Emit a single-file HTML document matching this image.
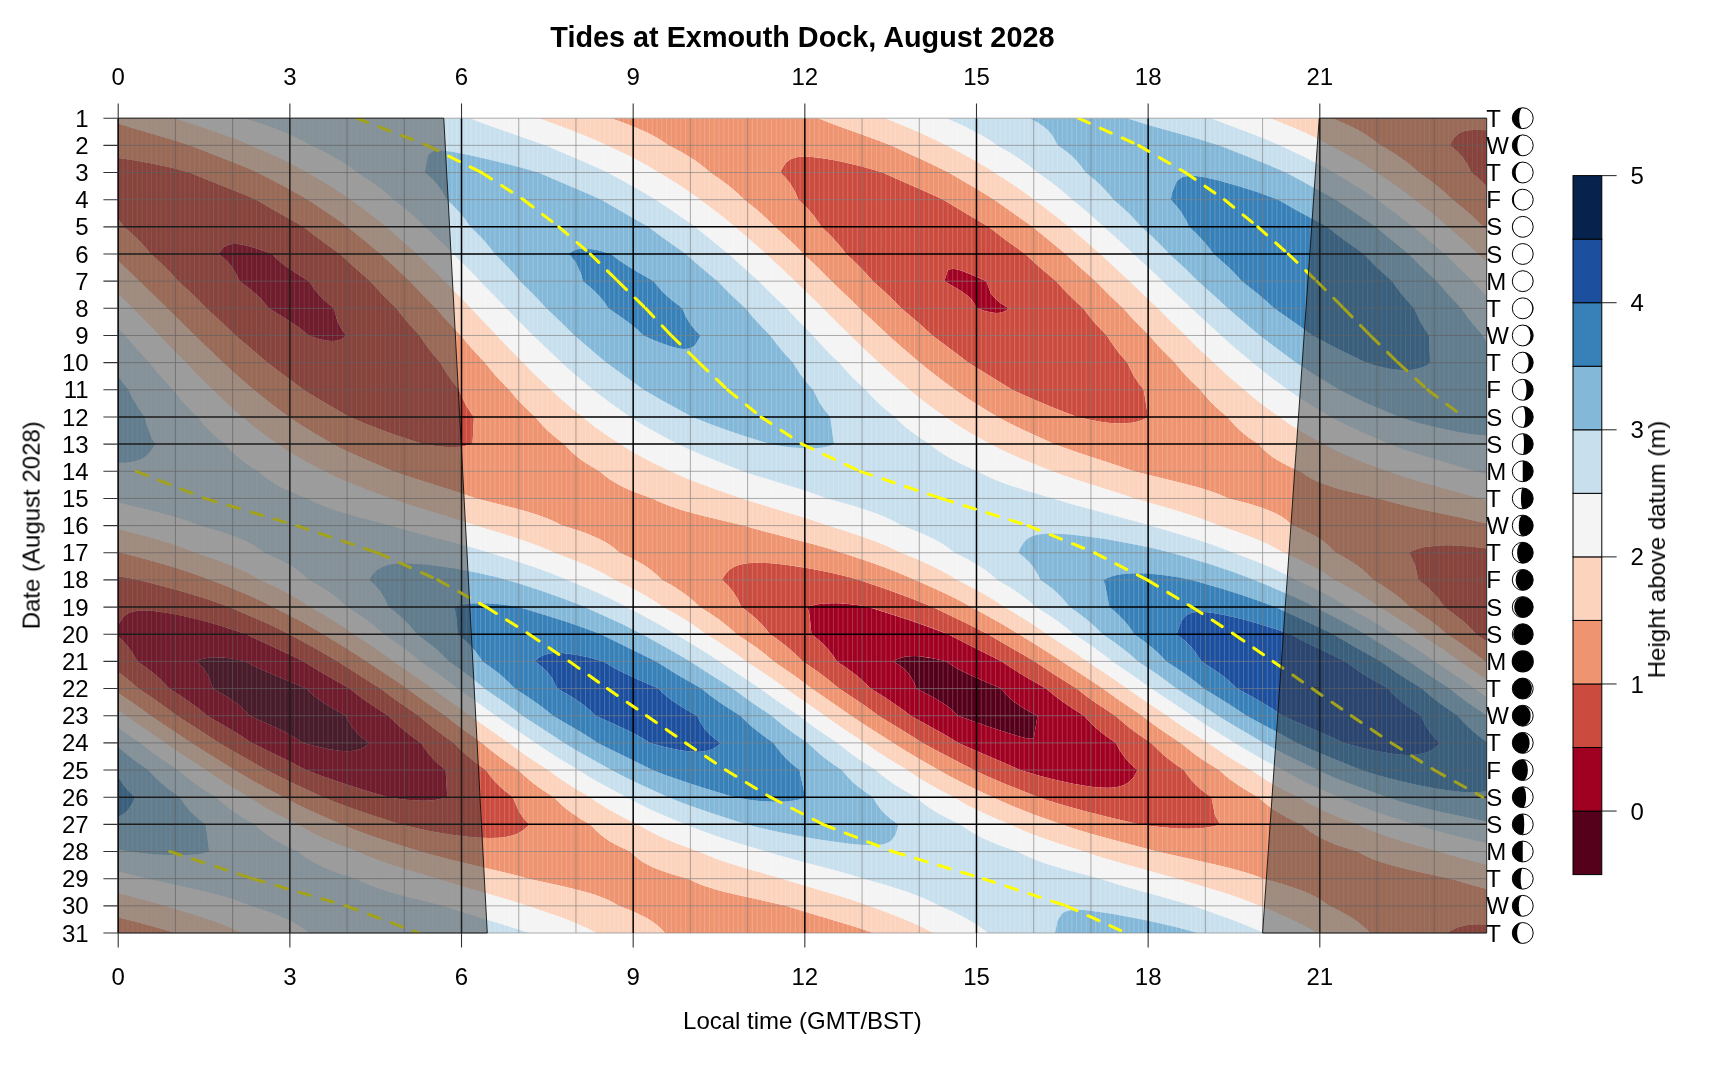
<!DOCTYPE html><html><head><meta charset="utf-8"><title>Tides</title><style>html,body{margin:0;padding:0;background:#fff}svg{display:block}text{font-family:"Liberation Sans",sans-serif;font-size:24px;fill:#000}</style></head><body>
<svg width="1720" height="1080" viewBox="0 0 1720 1080">
<rect width="1720" height="1080" fill="#fff"/>
<defs><clipPath id="c"><rect x="118.20" y="118.20" width="1368.50" height="814.80"/></clipPath></defs>
<g clip-path="url(#c)">
<rect x="118.2" y="118.2" width="1368.5" height="814.8" fill="#F7F7F7"/>
<path fill="#55001B" fill-rule="evenodd" d="M195.8,661.4 199.3,659.8 204,658.4 208.8,657.7 213.6,657.3 218.3,657.4 227.9,658.1 237.4,659.6 246,661.4 251.7,664.7 256.5,667.2 266,671.6 306.3,688.6 308.9,691.3 313.7,695.6 318.5,699.3 323.2,702.6 332.8,708.5 346,715.7 347.1,718.3 351.8,726.9 356.6,732.6 361.4,737 366.2,740.6 369.5,742.9 366.2,746.1 361.4,748.8 356.6,750.3 351.8,751 347.1,751.2 342.3,751 337.5,750.6 328,749.1 313.7,745.8 303,742.9 294.6,737.4 285.1,732.1 270.8,725.2 249.5,715.7 246.9,712.7 242.2,708 237.4,704 232.6,700.4 227.9,697.3 223.1,694.4 212.7,688.6 208.8,676.4 204,668.9 199.3,664.1ZM893.5,661.4 895.4,660.1 900.2,657.9 905,656.7 909.7,656.2 914.5,656.1 919.3,656.3 924,656.9 933.6,658.4 943.1,660.5 946.6,661.4 952.7,665.8 957.4,668.7 967,673.6 981.3,680.1 1001.3,688.6 1005.1,693.4 1009.9,698.2 1014.6,702.2 1019.4,705.5 1024.2,708.5 1028.9,711.2 1037.5,715.7 1033.7,738.4 1028.9,738.7 1024.2,737.7 1014.6,735 1000.3,730.5 986,725.8 957.9,715.7 952.7,710.4 947.9,706.5 943.1,703.2 933.6,697.4 924,692.4 916.3,688.6 914.5,683.5 909.7,674.9 905,669.6 900.2,665.7Z"/>
<path fill="#A00021" fill-rule="evenodd" d="M218.8,254 223.1,247.7 227.9,244.9 232.6,244 237.4,244.1 242.2,244.8 246.9,245.8 256.5,248.5 266,251.7 272,254 275.6,257.7 280.3,262 285.1,265.7 294.6,272.2 309.1,281.2 313.7,288.5 318.5,294.3 323.2,299.2 328,303.5 333.9,308.3 337.5,321.7 342.3,330.5 346.3,335.5 342.3,338.8 337.5,340.5 332.8,341 328,340.7 323.2,339.9 318.5,338.7 308.6,335.5 304.2,331.5 299.4,327.8 294.6,324.4 285.1,318.2 268.7,308.3 266,304.7 261.2,299.1 256.5,294.5 251.7,290.4 246.9,286.6 239.5,281.2 237.4,276.2 232.6,267.8 227.9,262.1 223.1,257.5ZM944.3,281.2 947.9,270.1 952.7,268.7 957.4,269.5 962.2,270.9 971.7,274.7 986.4,281.2 990.8,293.5 995.6,299.1 1000.3,302.9 1008.7,308.3 1005.1,311.3 1000.3,312.8 995.6,312.9 990.8,312.3 986,311.2 977.1,308.3 976.5,306.9 971.7,299.5 967,295.2 962.2,291.8 957.4,288.7ZM807.5,607.1 809.6,606.3 814.4,605 819.1,604.1 823.9,603.6 833.4,603.2 838.2,603.3 847.7,604 857.3,605.1 866.8,606.7 869,607.1 871.6,607.9 909.7,620.2 928.8,626.9 948.1,634.2 967,644.1 1001.8,661.4 1009.9,667 1019.4,673 1028.9,678.8 1046.1,688.6 1052.8,694.3 1062.3,701.6 1071.9,708.1 1084.1,715.7 1090.9,723.2 1095.7,727.7 1100.5,731.8 1105.2,735.5 1115.9,742.9 1119.5,749.9 1124.3,757 1129.1,762.5 1133.8,767 1137.5,770 1133.8,776.9 1129.1,781.9 1124.3,784.8 1119.5,786.4 1114.8,787.3 1110,787.7 1105.2,787.8 1095.7,787.2 1086.2,786 1071.9,783.6 1052.8,779.3 1038.5,775.5 1020.2,770 1005.1,763.3 976.5,750.9 958.4,742.9 947.9,736.4 938.3,730.9 910.6,715.7 905,711.3 895.4,704.4 885.9,698 870.6,688.6 866.8,684.7 862.1,680.2 857.3,676.1 847.7,668.7 837,661.4 833.4,655.9 828.7,649.9 823.9,644.8 819.1,640.3 811.5,634.2 809.6,615.4ZM895.4,660.1 893.5,661.4 900.2,665.7 905,669.6 909.7,674.9 914.5,683.5 916.3,688.6 924,692.4 933.6,697.4 943.1,703.2 947.9,706.5 952.7,710.4 957.9,715.7 986,725.8 1000.3,730.5 1014.6,735 1024.2,737.7 1028.9,738.7 1033.7,738.4 1037.5,715.7 1028.9,711.2 1024.2,708.5 1019.4,705.5 1014.6,702.2 1009.9,698.2 1005.1,693.4 1001.3,688.6 981.3,680.1 967,673.6 957.4,668.7 952.7,665.8 946.6,661.4 938.3,659.4 928.8,657.6 919.3,656.3 914.5,656.1 909.7,656.2 905,656.7 900.2,657.9ZM118.2,634.2 118.2,625 123,617.3 127.7,613.6 132.5,611.7 137.3,610.8 142,610.4 146.8,610.5 151.6,610.8 161.1,611.9 170.7,613.4 180.2,615.3 199.3,619.8 218.3,625.1 237.4,631.2 245.9,634.2 289.9,654.7 303.8,661.4 313.7,667.7 323.2,673.4 349.6,688.6 356.6,694.2 366.2,701.2 375.7,707.6 388.4,715.7 394.8,722.3 399.5,726.6 404.3,730.6 413.8,737.9 421,742.9 423.4,746.7 428.1,753.3 432.9,758.8 437.7,763.4 445.6,770 447.3,797.2 442.4,798.6 437.7,799.5 432.9,800.2 423.4,800.7 418.6,800.6 409.1,800.1 399.5,799 388,797.2 361.4,789.2 342.3,783.1 323.2,776.5 306.2,770 289.9,761.6 251.7,742.9 242.2,736.5 232.6,730.5 207.2,715.7 199.3,709.1 189.7,702 180.2,695.5 169.2,688.6 165.9,684.9 161.1,680 156.3,675.6 146.8,668 137.4,661.4 132.5,652.7 127.7,646.2 123,641 118.2,636.6ZM199.3,659.8 195.8,661.4 199.3,664.1 204,668.9 208.8,676.4 212.7,688.6 223.1,694.4 227.9,697.3 232.6,700.4 237.4,704 242.2,708 246.9,712.7 249.5,715.7 270.8,725.2 285.1,732.1 294.6,737.4 303,742.9 313.7,745.8 328,749.1 337.5,750.6 342.3,751 347.1,751.2 351.8,751 356.6,750.3 361.4,748.8 366.2,746.1 369.5,742.9 366.2,740.6 361.4,737 356.6,732.6 351.8,726.9 347.1,718.3 346,715.7 332.8,708.5 323.2,702.6 318.5,699.3 313.7,695.6 308.9,691.3 306.3,688.6 266,671.6 256.5,667.2 251.7,664.7 246,661.4 232.6,658.8 223.1,657.6 218.3,657.4 213.6,657.3 208.8,657.7 204,658.4Z"/>
<path fill="#CB4B3E" fill-rule="evenodd" d="M1449.9,145.4 1453.3,138.5 1458.1,133.9 1462.9,131.6 1467.6,130.4 1472.4,129.9 1477.2,129.8 1486.7,130.3 1486.7,186.4 1481.9,181.5 1477.2,177.2 1471.4,172.5 1467.6,164.8 1462.9,157.6 1458.1,152.3 1453.3,148ZM118.2,172.5 118.2,158 132.5,159.9 151.6,163.5 170.7,167.6 189.8,172.5 204,178.4 237.4,191.7 256.3,199.7 270.8,208.2 303.3,226.8 318.5,238.4 339.9,254 351.8,265.1 370.3,281.2 380.5,292.4 390,302.1 396.4,308.3 404.3,318.5 409.1,324.1 419.6,335.5 423.4,341.3 428.1,347.9 432.9,354 440.4,362.6 442.4,366.4 447.2,374.3 452,381.1 459,389.8 461.5,396.1 466.3,405.7 471.1,413.1 473.9,417 472.5,444.1 466.3,445.8 461.5,446.5 456.7,446.9 452,447 447.2,446.9 437.7,446.2 423.4,444.1 409.1,439.6 394.8,434.7 380.5,429.6 366.2,424 349.4,417 318.5,398.9 304.2,390.3 267.2,362.6 256.5,353.2 235.6,335.5 223.1,323.4 206.4,308.3 194.5,296.1 178.3,281.2 170.7,272.7 165.9,267.9 161.1,263.3 150.8,254 146.8,249.1 142,243.7 137.3,238.8 132.5,234.3 123.9,226.8 118.2,219ZM223.1,247.7 218.8,254 223.1,257.5 227.9,262.1 232.6,267.8 237.4,276.2 239.5,281.2 246.9,286.6 251.7,290.4 256.5,294.5 261.2,299.1 266,304.7 268.7,308.3 285.1,318.2 294.6,324.4 299.4,327.8 304.2,331.5 308.9,335.6 318.5,338.7 323.2,339.9 328,340.7 332.8,341 337.5,340.5 342.3,338.8 346.3,335.5 342.3,330.5 337.5,321.7 333.9,308.3 328,303.5 323.2,299.2 318.5,294.3 313.7,288.5 309.1,281.2 294.6,272.2 285.1,265.7 280.3,262 275.6,257.7 272,254 261.2,250 251.7,247 242.2,244.8 237.4,244.1 232.6,244 227.9,244.9ZM780.3,172.5 781,170.5 785.8,162.7 790.5,159.2 795.3,157.6 800.1,156.8 804.8,156.6 809.6,156.8 814.4,157.2 823.9,158.4 833.4,160.1 843,162 862.1,166.6 882.8,172.5 895.4,178.3 928.8,192.9 943.1,199.4 957.4,208.3 988.6,226.8 1005.1,239.5 1025.2,254 1038.5,266.3 1056.2,281.2 1062.3,288 1067.1,293 1076.6,302.3 1083.2,308.3 1090.9,318.3 1095.7,323.9 1100.5,329 1106.8,335.5 1110,340.6 1114.8,347.6 1119.5,353.8 1127.3,362.6 1129.1,366.6 1133.8,375.9 1138.6,383.3 1143.7,389.8 1148.1,417 1143.4,419.6 1138.6,421.3 1133.8,422.5 1129.1,423.1 1124.3,423.4 1119.5,423.4 1110,422.9 1100.5,421.7 1090.9,420 1077.1,417 1052.8,407.4 1038.5,401.5 1024.2,395.3 1012.2,389.8 968.1,362.6 957.4,354.3 932.4,335.5 919.3,323.6 901.2,308.3 890.7,297.6 881.1,288.6 872.8,281.2 866.8,274.3 862.1,269.2 852.5,259.8 846.2,254 843,249.7 838.2,243.9 833.4,238.6 828.7,233.8 821.3,226.8 819.1,223.4 814.4,216.6 809.6,210.8 804.8,205.7 798.4,199.7 795.3,192.3 790.5,184 785.8,178ZM947.9,270.1 944.3,281.2 957.4,288.7 962.2,291.8 967,295.2 971.7,299.5 976.5,306.9 977.1,308.3 986,311.2 990.8,312.3 995.6,312.9 1000.3,312.8 1005.1,311.3 1008.7,308.3 1000.3,302.9 995.6,299.1 990.8,293.5 986.4,281.2 976.5,276.7 967,272.7 962.2,270.9 957.4,269.5 952.7,268.7ZM1408.7,552.8 1410.4,551.8 1415.2,549.7 1419.9,548.2 1424.7,547.1 1429.5,546.4 1439,545.5 1448.6,545.3 1462.9,545.9 1472.4,546.7 1486.7,548.4 1486.7,641.4 1476.2,634.2 1472.4,630.1 1467.6,625.3 1462.9,621 1453.3,613.4 1444.4,607.1 1439,599.3 1434.2,593.7 1429.5,588.9 1424.7,584.8 1418.3,579.9 1415.2,565.6 1410.4,555.1ZM118.2,579.9 118.2,576.3 127.7,577.8 139,579.9 165.9,586.9 185,592.2 204,598.1 223.1,604.7 229.2,607.1 256.5,618.7 270.8,625.1 280.3,629.7 289.4,634.2 313.7,647.6 337.5,661.2 351.8,670.5 380.4,688.6 394.8,699.3 418.8,715.7 423.4,719.8 432.9,727.6 442.4,734.8 454,742.9 461.5,750.6 466.3,754.9 475.8,762.7 485.9,770 490.1,775.8 494.9,781.4 499.7,786.3 504.4,790.5 513,797.2 514,800.1 518.7,811.1 523.5,818.2 529.3,824.4 528.3,825.6 523.5,830.1 518.7,833.1 514,835 509.2,836.3 504.4,837.2 499.7,837.7 490.1,838.1 480.6,837.8 471.1,837.1 461.5,836.1 452,834.8 442.4,833.3 428.1,830.7 413.8,827.6 404.3,825.3 400.9,824.4 380.5,817.9 356.6,810 337.5,803 323.2,797.2 289.9,781.8 270.8,772.3 266.5,770 237.4,753.5 219.1,742.9 204,732.9 176.9,715.7 170.7,710.9 161.1,703.9 151.6,697.3 138.3,688.6 132.5,683.3 127.7,679.3 118.2,672 118.2,636.6 123,641 127.7,646.2 132.5,652.7 137.4,661.4 146.8,668 156.3,675.6 161.1,680 165.9,684.9 169.2,688.6 180.2,695.5 189.7,702 199.3,709.1 207.2,715.7 232.6,730.5 242.2,736.5 251.7,742.9 289.9,761.6 306.2,770 323.2,776.5 342.3,783.1 361.4,789.2 388,797.2 399.5,799 409.1,800.1 418.6,800.6 423.4,800.7 432.9,800.2 437.7,799.5 442.4,798.6 447.3,797.2 445.6,770 437.7,763.4 432.9,758.8 428.1,753.3 423.4,746.7 421,742.9 413.8,737.9 404.3,730.6 399.5,726.6 394.8,722.3 388.4,715.7 375.7,707.6 366.2,701.2 356.6,694.2 349.6,688.6 323.2,673.4 313.7,667.7 303.8,661.4 289.9,654.7 245.9,634.2 227.9,628.1 208.8,622.4 189.7,617.5 175.4,614.4 161.1,611.9 151.6,610.8 146.8,610.5 142,610.4 137.3,610.8 132.5,611.7 127.7,613.6 123,617.3 118.2,625ZM721.7,579.9 723.8,576.2 728.5,570.6 733.3,567.3 738.1,565.3 742.8,564 747.6,563.3 752.4,562.9 757.2,562.8 761.9,562.8 771.5,563.3 781,564.2 790.5,565.4 809.6,568.4 823.9,571.2 833.4,573.3 852.5,578 859.2,579.9 885.9,589 909.7,597.7 928.8,605.4 933.6,607.5 967,623.5 987.9,634.2 1033.7,660.8 1052.8,673.5 1076.7,688.6 1086.2,695.9 1095.7,702.7 1115.4,715.7 1124.3,723.6 1129.1,727.4 1138.6,734.4 1151.3,742.9 1157.7,749.6 1162.5,754 1167.2,758 1176.8,765.2 1184.1,770 1186.3,773.4 1191.1,779.7 1195.8,784.8 1200.6,789.2 1205.4,793 1211.5,797.2 1214.9,815 1220,824.4 1214.9,826 1210.1,827 1205.4,827.8 1195.8,828.6 1186.3,828.7 1176.8,828.4 1162.5,827.3 1152.9,826.2 1139.6,824.4 1110,817.4 1086.2,811.5 1067.1,806.3 1048,800.4 1038.5,797.2 1005.1,783.9 986,775.7 973.8,770 938.3,751.5 922.6,742.9 909.7,734.8 878.5,715.7 871.6,710.5 862.1,703.8 839,688.6 833.4,683.8 823.9,676.2 814.4,669.3 802.8,661.4 795.3,653.9 785.8,645.8 776.2,638.6 769.9,634.2 766.7,630 761.9,624.5 757.2,619.7 752.4,615.5 747.6,611.6 741.3,607.1 738.1,599.8 733.3,591.9 728.5,586.1 723.8,581.6ZM809.6,606.3 807.5,607.1 809.6,615.4 811.5,634.2 819.1,640.3 823.9,644.8 828.7,649.9 833.4,655.9 837,661.4 847.7,668.7 857.3,676.1 862.1,680.2 866.8,684.7 870.6,688.6 885.9,698 895.4,704.4 905,711.3 910.6,715.7 938.3,730.9 947.9,736.4 958.4,742.9 976.5,750.9 1005.1,763.3 1020.2,770 1038.5,775.5 1052.8,779.3 1071.9,783.6 1086.2,786 1095.7,787.2 1105.2,787.8 1110,787.7 1114.8,787.3 1119.5,786.4 1124.3,784.8 1129.1,781.9 1133.8,776.9 1137.5,770 1133.8,767 1129.1,762.5 1124.3,757 1119.5,749.9 1115.9,742.9 1105.2,735.5 1100.5,731.8 1095.7,727.7 1090.9,723.2 1084.1,715.7 1071.9,708.1 1062.3,701.6 1052.8,694.3 1046.1,688.6 1028.9,678.8 1019.4,673 1009.9,667 1001.8,661.4 967,644.1 948.1,634.2 933.6,628.6 914.5,621.8 895.4,615.5 869,607.1 862.1,605.8 852.5,604.5 843,603.6 833.4,603.2 823.9,603.6 819.1,604.1 814.4,605ZM1447.4,933 1448.6,932.1 1453.3,929.2 1458.1,927.2 1462.9,925.9 1467.6,925 1472.4,924.6 1477.2,924.3 1486.7,924.5 1486.7,933Z"/>
<path fill="#EF9470" fill-rule="evenodd" d="M118.2,145.4 118.2,123.5 132.5,128 170.7,139.3 189.7,145.2 232.6,161.9 246.9,167.8 257.6,172.5 285.1,186.8 304.2,197.4 308,199.7 328,213 347.7,226.8 375.7,249.7 380.8,254 409.8,281.2 423.4,295.5 436,308.3 447.2,321.1 460.8,335.5 471.1,347.7 484.9,362.6 490.1,369.1 494.9,374.7 499.7,379.9 509.3,389.8 514,395.5 518.7,400.9 528.3,410.6 535.2,417 542.6,425.4 547.3,430.2 552.1,434.5 556.9,438.5 564.1,444.1 571.2,451.5 576,455.7 580.7,459.4 585.5,462.8 590.3,465.8 599.7,471.3 604.6,475.5 609.3,479.1 614.1,482.1 618.9,484.8 623.6,487.2 633.2,491.4 642.7,495 652.6,498.4 657,500.7 666.6,504.8 671.3,506.6 680.9,509.7 690.4,512.5 704.7,516.2 743.6,525.6 761.9,530.7 814.4,544.4 828.7,548.5 838.2,551.5 866.8,561 885.9,567.8 895.4,571.4 905,575.4 933.6,588.1 952.7,597.1 962.2,602 986,615 1005.1,625.8 1038.5,646.3 1057.6,658.4 1102.9,688.6 1119.5,700.6 1142.2,715.7 1148.2,720.5 1157.7,727.5 1167.2,734.1 1180.8,742.9 1186.3,747.6 1195.8,754.9 1205.4,761.5 1219.2,770 1224.4,774.8 1229.2,778.7 1238.7,785.6 1248.3,791.5 1258.6,797.2 1262.6,801.1 1267.4,805.1 1272.1,808.7 1276.9,811.8 1286.4,817.3 1296,821.9 1301.5,824.4 1305.5,828 1310.3,831.7 1315,834.8 1319.8,837.5 1324.6,839.8 1334.1,843.9 1343.7,847.3 1357.7,851.5 1362.7,854.5 1367.5,856.8 1372.3,858.9 1377,860.7 1386.6,863.8 1396.1,866.5 1410.4,870.1 1450.5,878.7 1467.6,883.8 1486.7,888.9 1486.7,924.5 1477.2,924.3 1472.4,924.6 1467.6,925 1462.9,925.9 1458.1,927.2 1453.3,929.2 1448.6,932.1 1447.4,933 1370.3,933 1367.5,930.2 1362.7,925.9 1358,922.1 1353.2,918.8 1348.4,915.8 1338.9,910.5 1329,905.8 1324.6,902.4 1319.8,899.3 1315,896.6 1305.5,892.1 1296,888.4 1281.7,883.8 1263,878.7 1257.8,876.6 1248.3,873.3 1234,869.3 1214.9,864.6 1156.9,851.5 1110,839.1 1090.9,833.7 1071.9,827.9 1052.8,821.3 1033.7,814.4 1014.6,807 1000.3,800.8 976.5,789.7 962.2,782.8 947.9,775.2 919.3,759 905,750.6 866.8,726.2 850.9,715.7 838.2,706.7 811.6,688.6 804.8,683.3 795.3,676.2 773.7,661.4 766.7,655.5 757.2,648.1 747.6,641.4 736.7,634.2 728.5,627 719,619.6 709.5,613 699.8,607.1 695.2,602.5 690.4,598.3 685.6,594.6 676.1,588 671.3,585.1 661.9,579.9 657,575 652.2,571 647.5,567.4 642.7,564.3 633.2,559 628.4,556.7 619.5,552.8 614.1,548 609.3,544.6 604.6,541.7 599.8,539.2 590.3,534.9 585.5,533.1 576,529.8 562,525.6 556.9,522.8 552.1,520.6 547.3,518.6 537.8,515.1 528.3,512.1 514,508 476,498.4 456.7,491.8 413.8,478.3 392.8,471.3 356.6,455.6 342.3,448.9 332.7,444.1 308.9,430.1 299.4,424.1 289.9,417.8 270.8,403.6 253.6,389.8 237.4,375.7 223.1,362.6 194.8,335.5 156.3,297.5 139.2,281.2 127.7,269.9 118.2,261.1 118.2,219 123.9,226.8 132.5,234.3 137.3,238.8 142,243.7 146.8,249.1 150.8,254 161.1,263.3 165.9,267.9 170.7,272.7 178.3,281.2 194.5,296.1 206.4,308.3 223.1,323.4 235.6,335.5 256.5,353.2 267.2,362.6 303.4,389.8 318.5,398.9 349.4,417 366.2,424 385.2,431.3 404.3,438 423.3,444.1 437.7,446.2 447.2,446.9 452,447 456.7,446.9 461.5,446.5 466.3,445.8 472.5,444.1 473.9,417 471.1,413.1 466.3,405.7 461.5,396.1 459,389.8 452,381.1 447.2,374.3 442.4,366.4 440.4,362.6 432.9,354 428.1,347.9 423.4,341.3 419.6,335.5 409.1,324.1 404.3,318.5 396.4,308.3 390,302.1 380.5,292.4 370.3,281.2 351.8,265.1 339.9,254 318.5,238.4 303.3,226.8 270.8,208.2 256.3,199.7 237.4,191.7 204,178.4 189.8,172.5 170.7,167.6 151.6,163.5 132.5,159.9 118.2,158ZM723.8,576.2 721.7,579.9 723.8,581.6 728.5,586.1 733.3,591.9 738.1,599.8 741.3,607.1 747.6,611.6 752.4,615.5 757.2,619.7 761.9,624.5 766.7,630 769.9,634.2 776.2,638.6 785.8,645.8 795.3,653.9 802.8,661.4 814.4,669.3 823.9,676.2 833.4,683.8 839,688.6 862.1,703.8 871.6,710.5 878.5,715.7 909.7,734.8 922.6,742.9 938.3,751.5 973.8,770 986,775.7 1005.1,783.9 1038.5,797.2 1048,800.4 1067.1,806.3 1086.2,811.5 1110,817.4 1139.6,824.4 1152.9,826.2 1162.5,827.3 1176.8,828.4 1186.3,828.7 1195.8,828.6 1205.4,827.8 1210.1,827 1214.9,826 1220,824.4 1214.9,815 1211.5,797.2 1205.4,793 1200.6,789.2 1195.8,784.8 1191.1,779.7 1186.3,773.4 1184.1,770 1176.8,765.2 1167.2,758 1162.5,754 1157.7,749.6 1151.3,742.9 1138.6,734.4 1129.1,727.4 1124.3,723.6 1115.4,715.7 1095.7,702.7 1086.2,695.9 1076.7,688.6 1052.8,673.5 1033.7,660.8 987.9,634.2 971.7,625.9 932.7,607.1 919.3,601.4 900.2,594.1 885.9,589 859.2,579.9 847.7,576.8 838.2,574.4 819.1,570.2 800.1,566.8 781,564.2 766.7,563 757.2,562.8 752.4,562.9 747.6,563.3 742.8,564 738.1,565.3 733.3,567.3 728.5,570.6ZM610.8,118.2 818.2,118.2 833.4,124.2 876.4,139.7 891.2,145.4 928.8,162.7 948.7,172.5 976.5,188.7 990.8,197.4 994.3,199.7 1014.6,214 1032.5,226.8 1065.7,254 1076.6,264.2 1095.7,281.2 1110,295.7 1123.3,308.3 1133.8,319.9 1143.4,329.6 1149.4,335.5 1157.7,345.2 1162.5,350.3 1174.8,362.6 1181.5,370.8 1186.3,376.1 1191.1,381 1200.4,389.8 1205.4,396 1210.1,401.2 1214.9,406 1219.7,410.4 1227.5,417 1234,424.6 1238.7,429.3 1243.5,433.4 1248.3,437.2 1253.1,440.5 1258.5,444.1 1262.6,448.6 1267.4,453 1272.1,456.7 1276.9,459.8 1281.7,462.6 1286.4,465.1 1291.2,467.4 1300.4,471.3 1305.5,475.1 1310.3,478 1315,480.4 1324.6,484.3 1334.1,487.5 1343.7,490.2 1353.2,492.6 1378.8,498.4 1391.3,502.1 1405.6,505.7 1419.9,508.9 1462.9,518 1486.7,523.5 1486.7,548.4 1472.4,546.7 1462.9,545.9 1448.6,545.3 1439,545.5 1429.5,546.4 1424.7,547.1 1419.9,548.2 1415.2,549.7 1410.4,551.8 1408.7,552.8 1410.4,555.1 1415.2,565.6 1418.3,579.9 1424.7,584.8 1429.5,588.9 1434.2,593.7 1439,599.3 1444.4,607.1 1453.3,613.4 1462.9,621 1467.6,625.3 1472.4,630.1 1476.2,634.2 1486.7,641.4 1486.7,662.6 1484.9,661.4 1477.2,655.2 1467.6,648.2 1458.1,641.5 1447.1,634.2 1439,627.3 1429.5,620 1419.9,613.4 1410,607.1 1405.6,602.9 1400.9,598.7 1391.3,591.4 1381.8,585 1373.3,579.9 1367.5,574 1362.7,569.8 1358,566.1 1353.2,562.8 1348.4,559.8 1343.7,557 1335.5,552.8 1329.3,546.2 1324.6,542.2 1319.8,538.8 1315,535.9 1310.3,533.3 1305.5,530.9 1300.7,528.8 1292.5,525.6 1286.4,520 1281.7,516.7 1276.9,514 1272.1,511.7 1262.6,508 1248.3,503.5 1228.3,498.4 1219.7,494.5 1214.9,492.7 1205.4,489.5 1195.8,486.7 1181.5,482.9 1133.9,471.3 1119.5,466.3 1081.4,453.8 1062.3,447.1 1054.2,444.1 1028.9,432.6 1014.6,425.8 997.5,417 981.3,407.1 967,398 957.4,391.6 943.1,381.1 928.8,370.1 919.6,362.6 900.2,345.9 888.5,335.5 859.5,308.3 847.7,296.7 831.4,281.2 819.1,268.8 803.4,254 795.3,245.6 790.5,241 781,232.3 774.7,226.8 766.7,218.7 757.2,210.1 744.2,199.7 738.1,193.7 728.5,185.6 719,178.5 710.2,172.5 704.7,167.7 699.9,164 695.2,160.6 690.4,157.4 680.9,151.8 668.6,145.4 661.8,140.7 657,137.8 647.5,132.8 637.9,128.4 623.6,122.8ZM781,170.5 780.3,172.5 785.8,178 790.5,184 795.3,192.3 798.4,199.7 804.8,205.7 809.6,210.8 814.4,216.6 819.1,223.4 821.3,226.8 828.7,233.8 833.4,238.6 838.2,243.9 843,249.7 846.2,254 852.5,259.8 862.1,269.2 866.8,274.3 872.8,281.2 881.1,288.6 890.7,297.6 901.2,308.3 919.3,323.6 932.4,335.5 957.4,354.3 968.1,362.6 1012.2,389.8 1024.2,395.3 1038.5,401.5 1052.8,407.4 1077.1,417 1090.9,420 1100.5,421.7 1110,422.9 1119.5,423.4 1124.3,423.4 1129.1,423.1 1133.8,422.5 1138.6,421.3 1143.4,419.6 1148.1,417 1143.7,389.8 1138.6,383.3 1133.8,375.9 1129.1,366.6 1127.3,362.6 1119.5,353.8 1114.8,347.6 1110,340.6 1106.8,335.5 1100.5,329 1095.7,323.9 1090.9,318.3 1083.2,308.3 1076.6,302.3 1067.1,293 1062.3,288 1056.2,281.2 1038.5,266.3 1025.2,254 1005.1,239.5 988.6,226.8 957.4,208.3 943.6,199.7 928.8,192.9 895.4,178.3 882.8,172.5 866.8,167.9 847.7,163.1 838.2,161 828.7,159.2 819.1,157.7 814.4,157.2 804.8,156.6 800.1,156.8 795.3,157.6 790.5,159.2 785.8,162.7ZM1332.3,118.2 1486.7,118.2 1486.7,130.3 1477.2,129.8 1472.4,129.9 1467.6,130.4 1462.9,131.6 1458.1,133.9 1453.3,138.5 1449.9,145.4 1453.3,148 1458.1,152.3 1462.9,157.6 1467.6,164.8 1471.4,172.5 1477.2,177.2 1481.9,181.5 1486.7,186.4 1486.7,229.7 1483.4,226.8 1472.4,216.3 1462.9,208 1452.6,199.7 1443.8,191.5 1439,187.4 1429.5,180 1419,172.5 1410.4,165 1405.6,161.3 1396.1,154.7 1386.6,148.8 1380.5,145.4 1372.3,138.9 1362.7,132.8 1358,130.1 1348.4,125.3ZM118.2,552.8 118.2,551.8 151.6,560.7 175.4,567.7 194.5,573.9 223.1,584.7 242.2,592.4 251.7,596.6 261.2,601.1 294.6,618 304.2,623.1 313.7,628.6 342.3,645.7 356.6,654.7 394.8,680.1 407.1,688.6 423.4,700.4 445.4,715.7 452,721 461.5,728.3 482.3,742.9 490.1,749.7 499.7,757.1 509.2,763.9 518.3,770 523.5,775 533,783 542.6,789.9 553.9,797.2 556.9,800.3 561.7,804.9 566.4,808.9 571.2,812.6 580.7,818.9 590.2,824.4 595,829.6 599.8,834 604.6,837.7 609.3,840.9 614.1,843.7 623.6,848.5 630.4,851.5 633.2,854.4 637.9,858.6 642.7,861.9 647.5,864.6 652.2,867 661.8,870.8 671.3,874 688.3,878.7 695.2,882.2 699.9,884.2 704.7,886 714.2,889 723.8,891.7 738.1,895.1 786.1,905.8 800.1,910.2 847.7,924.5 862.1,929.1 873.2,933 665.1,933 661.8,929.4 657,925.1 652.2,921.5 647.5,918.5 642.7,915.9 633.2,911.4 628.4,909.5 618.5,905.8 614.1,903 609.3,900.5 604.6,898.4 595,894.8 585.5,891.9 571.2,888.2 556.9,884.9 528.2,878.7 518.7,876 504.4,872.4 452,860 432.9,855 418.6,850.9 385.2,840.5 370.9,835.7 361.4,832.2 351.8,828.4 323.2,816.4 308.9,810.1 299.4,805.5 266,788 251.7,780.1 242.2,774.5 208.8,754.1 194.5,745 151.6,716.4 137.3,706 118.2,693 118.2,672 127.7,679.3 132.5,683.3 138.3,688.6 151.6,697.3 161.1,703.9 170.7,710.9 176.9,715.7 204,732.9 219.1,742.9 232.6,750.8 266.5,770 275.6,774.8 294.6,784 323.2,797.2 342.3,804.8 356.6,810 370.9,814.8 399.5,823.9 404.3,825.3 418.6,828.7 437.7,832.5 452,834.8 466.3,836.7 480.6,837.8 490.1,838.1 499.7,837.7 504.4,837.2 509.2,836.3 514,835 518.7,833.1 523.5,830.1 528.3,825.6 529.3,824.4 523.5,818.2 518.7,811.1 514,800.1 513,797.2 504.4,790.5 499.7,786.3 494.9,781.4 490.1,775.8 485.9,770 475.8,762.7 466.3,754.9 461.5,750.6 454,742.9 442.4,734.8 432.9,727.6 423.4,719.8 418.8,715.7 394.8,699.3 380.4,688.6 351.8,670.5 337.9,661.4 318.5,650.2 285.1,632.1 266,623 246.9,614.6 229.2,607.1 218.3,603 204,598.1 189.7,593.6 165.9,586.9 139,579.9 127.7,577.8 118.2,576.3ZM118.2,933 118.2,917.3 151.6,926 175.7,933Z"/>
<path fill="#FCD3BC" fill-rule="evenodd" d="M118.2,118.2 175.4,118.2 218.3,132.7 232.6,137.9 242.2,141.6 266,151.8 280.3,158.3 294.6,165.4 304.2,170.6 328,184.5 337.5,190.5 347.1,197 361.4,207.3 370.9,214.5 380.5,222 394.8,234.1 404.3,242.4 413.8,251.1 437.7,274 444.8,281.2 471.1,308.2 504.4,343.5 514,353.4 533,372.7 556.9,395.3 561.7,399.6 571.2,407.8 590.3,423.2 595,426.9 609.3,436.9 628.4,449.2 642.7,457.4 657,464.8 680.9,475.9 695.2,481.8 714.2,488.8 742.8,498.7 757.2,503.3 809.6,519.2 828.2,525.6 852.5,533.3 866.8,538.3 876.4,541.8 885.9,545.6 895.4,549.9 901.3,552.8 914.5,558.1 924,562.2 938.3,569 947.9,574.2 957.4,579.9 971.7,587.2 986,595.1 995.6,601 1004.4,607.1 1019.4,615.9 1028.9,621.8 1038.5,628.2 1047,634.2 1071.9,650.4 1087.5,661.4 1114.8,679.8 1143.4,699.7 1167.3,715.7 1176.8,722.6 1186.3,729 1208.1,742.9 1219.7,751.1 1229.2,757.3 1238.7,763 1251.1,770 1262.6,777.8 1267.4,780.8 1276.9,786.2 1286.4,791.2 1299,797.2 1305.5,801.2 1310.3,804 1315,806.5 1324.6,811.2 1338.9,817.3 1357.8,824.4 1367.5,828.9 1377,832.7 1391.3,837.8 1405.6,842.2 1419.9,846.3 1439.5,851.5 1448.6,854.4 1462.9,858.5 1486.7,864.8 1486.7,888.9 1467.6,883.8 1450.5,878.7 1410.4,870.1 1396.1,866.5 1386.6,863.8 1377,860.7 1372.3,858.9 1367.5,856.8 1362.7,854.5 1357.7,851.5 1343.7,847.3 1334.1,843.9 1324.6,839.8 1319.8,837.5 1315,834.8 1310.3,831.7 1305.5,828 1301.5,824.4 1296,821.9 1286.4,817.3 1276.9,811.8 1272.1,808.7 1267.4,805.1 1262.6,801.1 1258.6,797.2 1248.3,791.5 1238.7,785.6 1229.2,778.7 1224.4,774.8 1219.2,770 1205.4,761.5 1195.8,754.9 1186.3,747.6 1180.8,742.9 1167.2,734.1 1157.7,727.5 1148.2,720.5 1142.2,715.7 1119.5,700.6 1102.9,688.6 1057.6,658.4 1043.2,649.2 1014.6,631.5 1000.3,623 962.2,602 952.7,597.1 938.3,590.2 909.7,577.5 895.4,571.4 876.4,564.3 857.3,557.8 833.4,550 809.6,543.1 761.9,530.7 743.6,525.6 704.7,516.2 690.4,512.5 680.9,509.7 671.3,506.6 666.6,504.8 657,500.7 652.6,498.4 642.7,495 633.2,491.4 623.6,487.2 618.9,484.8 614.1,482.1 609.3,479.1 604.6,475.5 599.7,471.3 590.3,465.8 585.5,462.8 580.7,459.4 576,455.7 571.2,451.5 564.1,444.1 556.9,438.5 552.1,434.5 547.3,430.2 542.6,425.4 535.2,417 528.3,410.6 518.7,400.9 514,395.5 509.3,389.8 499.7,379.9 494.9,374.7 490.1,369.1 484.9,362.6 471.1,347.7 460.8,335.5 447.2,321.1 436,308.3 423.4,295.5 409.8,281.2 380.8,254 347.1,226.4 332.8,216.3 308,199.7 289.9,189.4 257.6,172.5 246.9,167.8 232.6,161.9 190.2,145.4 170.7,139.3 132.5,128 118.2,123.5ZM538.8,118.2 610.8,118.2 623.6,122.8 633.2,126.5 642.7,130.5 647.5,132.8 657,137.8 661.8,140.7 668.6,145.4 676.1,149.2 685.6,154.5 695.2,160.6 699.9,164 704.7,167.7 710.2,172.5 719,178.5 723.8,181.9 733.3,189.5 738.1,193.7 744.2,199.7 752.4,206.1 761.9,214.3 766.7,218.7 774.7,226.8 781,232.3 790.5,241 795.3,245.6 803.4,254 819.1,268.8 831.4,281.2 847.7,296.7 859.5,308.3 890.7,337.5 919.6,362.6 928.8,370.1 954.8,389.8 967,398 981.3,407.1 995.6,415.8 1005.1,421 1014.6,425.8 1028.9,432.6 1054.2,444.1 1057.6,445.4 1076.6,452.1 1119.5,466.3 1133.9,471.3 1181.5,482.9 1195.8,486.7 1205.4,489.5 1214.9,492.7 1219.7,494.5 1228.3,498.4 1248.3,503.5 1262.6,508 1272.1,511.7 1276.9,514 1281.7,516.7 1286.4,520 1292.5,525.6 1300.7,528.8 1305.5,530.9 1310.3,533.3 1315,535.9 1319.8,538.8 1324.6,542.2 1329.3,546.2 1335.5,552.8 1343.7,557 1348.4,559.8 1353.2,562.8 1358,566.1 1362.7,569.8 1367.5,574 1373.3,579.9 1381.8,585 1391.3,591.4 1400.9,598.7 1405.6,602.9 1410,607.1 1419.9,613.4 1429.5,620 1439,627.3 1447.1,634.2 1458.1,641.5 1467.6,648.2 1477.2,655.2 1484.9,661.4 1486.7,662.6 1486.7,679.8 1459.7,661.4 1443.8,649.9 1419.9,634.2 1415.2,630.6 1405.6,623.8 1391.3,614.6 1378.8,607.1 1367.5,598.9 1358,592.8 1348.4,587.3 1334.6,579.9 1324.6,573.2 1315,567.6 1300.7,560.3 1283.6,552.8 1276.9,548.9 1267.4,544 1257.8,539.8 1248.3,535.9 1234,530.7 1218.6,525.6 1205.4,520.2 1191.1,515.2 1172,509.2 1134.8,498.4 1119.5,493.4 1076.6,479.8 1062.3,475 1052.1,471.3 1024.2,460.1 1005.1,451.6 995.6,446.9 986,441.8 976.5,436.6 967,431.1 952.7,422 938.3,412.1 928.8,405.2 914.5,393.9 895.4,377.7 885.9,369.2 862.1,346.9 833.4,318.9 822.9,308.3 795,281.2 781,267.9 761.9,250.2 747.6,237.6 723.8,217.6 714.2,210.2 695.2,196 680.9,186.1 666.6,177.2 647.5,165.7 637.9,160.5 628.4,155.6 599.8,142.1 590.3,137.9 571.2,130.3ZM818.2,118.2 885.5,118.2 919.3,132.3 938.3,141.2 967,156.1 976.5,161.4 986,167.1 1009.9,182.4 1019.4,188.8 1028.9,195.7 1048,210.1 1057.6,217.5 1067.1,225.3 1081.4,237.5 1100.3,254 1129.7,281.2 1143.4,294.6 1157.9,308.3 1167.2,317.8 1185.7,335.5 1195.8,345.8 1205.4,354.8 1214.1,362.6 1224.4,372.7 1234,381.1 1244.6,389.8 1253.1,397.3 1262.6,404.8 1272.1,411.8 1279.7,417 1286.4,421.9 1291.2,425.2 1296,428.3 1305.5,434.1 1315,439.3 1334.1,449.4 1343.7,454 1353.2,458.1 1362.7,461.9 1377,467.3 1396.1,474 1405.6,477.2 1424.7,482.9 1486.7,500.3 1486.7,523.5 1462.9,518 1419.9,508.9 1405.6,505.7 1391.3,502.1 1378.8,498.4 1353.2,492.6 1343.7,490.2 1334.1,487.5 1324.6,484.3 1315,480.4 1310.3,478 1305.5,475.1 1300.4,471.3 1291.2,467.4 1286.4,465.1 1281.7,462.6 1276.9,459.8 1272.1,456.7 1267.4,453 1262.6,448.6 1258.5,444.1 1253.1,440.5 1248.3,437.2 1243.5,433.4 1238.7,429.3 1234,424.6 1227.5,417 1219.7,410.4 1214.9,406 1210.1,401.2 1205.4,396 1200.4,389.8 1191.1,381 1186.3,376.1 1181.5,370.8 1174.8,362.6 1162.5,350.3 1157.7,345.2 1149.4,335.5 1143.4,329.6 1133.8,319.9 1123.3,308.3 1110,295.7 1095.7,281.2 1076.6,264.2 1065.7,254 1032.5,226.8 1019.4,217.4 994.3,199.7 971.7,185.9 948.7,172.5 943.1,169.7 924,160.5 891.2,145.4 876.4,139.7 833.4,124.2ZM1270,118.2 1332.3,118.2 1348.4,125.3 1358,130.1 1362.7,132.8 1372.3,138.9 1380.5,145.4 1386.6,148.8 1396.1,154.7 1405.6,161.3 1410.4,165 1419,172.5 1429.5,180 1439,187.4 1443.8,191.5 1452.6,199.7 1462.9,208 1472.4,216.3 1483.4,226.8 1486.7,229.7 1486.7,262.3 1477.2,253.1 1467.6,244.3 1439,219.1 1424.7,207.6 1405.6,192.8 1396.1,185.9 1386.6,179.4 1367.5,166.7 1358,160.8 1343.7,152.7 1329.6,145.4 1319.8,140 1310.3,135.3 1300.7,130.9 1286.4,124.8ZM118.2,281.2 118.2,261.1 127.7,269.9 139.2,281.2 156.3,297.5 194.8,335.5 208.8,349 227.9,367.1 246.9,384 256.5,392.2 266,399.9 288.7,417 304.2,427.1 318.5,435.8 332.7,444.1 347.1,451.2 366.2,459.8 392.8,471.3 413.8,478.3 456.7,491.8 476,498.4 514,508 528.3,512.1 537.8,515.1 547.3,518.6 552.1,520.6 556.9,522.8 562,525.6 576,529.8 585.5,533.1 590.3,534.9 599.8,539.2 604.6,541.7 609.3,544.6 614.1,548 619.5,552.8 628.4,556.7 633.2,559 642.7,564.3 647.5,567.4 652.2,571 657,575 661.9,579.9 671.3,585.1 676.1,588 685.6,594.6 690.4,598.3 695.2,602.5 699.8,607.1 709.5,613 719,619.6 728.5,627 736.7,634.2 747.6,641.4 757.2,648.1 766.7,655.5 773.7,661.4 795.3,676.2 804.8,683.3 811.6,688.6 833.4,703.4 852.5,716.8 871.6,729.3 905,750.6 924,761.8 947.9,775.2 957.4,780.3 967,785.1 981.3,792 1000.3,800.8 1014.6,807 1024.2,810.8 1038.5,816.2 1067.1,826.3 1076.6,829.4 1090.9,833.7 1105.2,837.8 1156.9,851.5 1214.9,864.6 1229.2,868 1238.7,870.5 1253.1,874.9 1263,878.7 1276.9,882.4 1286.4,885.3 1300.7,890.2 1310.3,894.2 1315,896.6 1319.8,899.3 1324.6,902.4 1329,905.8 1338.9,910.5 1348.4,915.8 1353.2,918.8 1358,922.1 1362.7,925.9 1367.5,930.2 1370.3,933 1316.6,933 1310.3,929.2 1300.7,924 1286.4,917.1 1272.1,910.9 1253.1,903.2 1238.7,897.8 1229.2,894.5 1214.9,890 1172,877.2 1124.3,863.9 1105.2,858.4 1095.7,855.4 1084.2,851.5 1057.6,843.2 1043.2,838.3 1028.9,832.9 1019.4,828.8 1010,824.4 990.8,816.4 976.5,809.8 967,804.9 962.2,802.2 953.9,797.2 943.1,791.7 933.6,786.6 919.3,778.2 907.1,770 890.7,760.2 881.1,754.1 871.6,747.7 864.9,742.9 843,728.4 819.1,711.7 790.5,692 771.5,678.3 746.4,661.4 733.3,651.8 719,642.3 706.1,634.2 699.9,629.7 690.4,623.1 676.1,614.3 663.1,607.1 652.2,599.7 642.7,594 628.4,586.5 614.5,579.9 609.3,576.8 599.8,571.6 590.3,567 576,560.9 554.2,552.8 547.3,549.6 537.8,545.7 523.5,540.5 509.2,535.8 475.4,525.6 456.7,519.4 409.1,504.7 394.8,499.9 375.7,493 356.6,485.7 342.3,479.8 332.8,475.4 313.7,465.8 299.4,458 289.9,452.2 280.3,445.9 266,435.9 256.5,428.7 251.7,424.9 232.6,408.6 223.1,400 199.3,376.8 185.7,362.6 170.7,347.4 159.5,335.5 132.9,308.3 118.2,294ZM118.2,551.8 118.2,528.7 151.6,537.8 165.9,542 175.4,545.1 185,548.5 195.7,552.8 208.8,557.1 223.1,562.3 232.6,566.1 242.2,570.3 251.7,575.1 260.3,579.9 275.6,586.9 289.9,594.2 299.4,599.8 310.3,607.1 323.2,614.3 337.5,623 347.1,629.5 353.5,634.2 366.2,642.2 380.5,651.7 393.6,661.4 418.6,678.5 437.7,692.4 466.3,712.7 485.4,726.6 508.9,742.9 523.5,753.7 533,760.2 548.3,770 556.9,776.5 561.7,779.8 576,789 590.3,797.2 595,800.7 604.6,806.9 609.3,809.8 618.9,815.1 628.4,819.9 638,824.4 647.5,830 652.2,832.5 661.8,837.2 676.1,843.2 685.6,846.8 699,851.5 704.7,854.1 714.2,857.9 723.8,861.3 738.1,866 752.4,870.3 782.3,878.7 800.1,884.3 843,897.1 862.1,903.3 885.9,912 905,919.5 919.3,925.8 933.7,933 873.2,933 862.1,929.1 847.7,924.5 800.1,910.2 786.1,905.8 738.1,895.1 723.8,891.7 714.2,889 704.7,886 699.9,884.2 695.2,882.2 688.3,878.7 676.1,875.4 666.6,872.5 657,869 652.2,867 647.5,864.6 642.7,861.9 637.9,858.6 633.2,854.4 630.4,851.5 623.6,848.5 614.1,843.7 609.3,840.9 604.6,837.7 599.8,834 595,829.6 590.2,824.4 580.7,818.9 571.2,812.6 566.4,808.9 561.7,804.9 556.9,800.3 553.9,797.2 542.6,789.9 533,783 523.5,775 518.3,770 509.2,763.9 499.7,757.1 490.1,749.7 482.3,742.9 461.5,728.3 452,721 445.4,715.7 423.4,700.4 407.1,688.6 394.8,680.1 356.6,654.7 342.3,645.7 313.7,628.6 304.2,623.1 294.6,618 261.2,601.1 246.9,594.5 227.9,586.6 199.3,575.6 180.2,569.1 156.3,562.1ZM118.2,710.3 118.2,693 137.3,706 150.6,715.7 194.5,745 213.6,757.1 246.9,777.4 266,788 299.4,805.5 308.9,810.1 318.5,814.3 351.8,828.4 366.2,833.9 385.2,840.5 409.1,848 432.9,855 456.7,861.2 509.2,873.6 528.2,878.7 556.9,884.9 571.2,888.2 585.5,891.9 595,894.8 604.6,898.4 609.3,900.5 614.1,903 618.5,905.8 628.4,909.5 633.2,911.4 642.7,915.9 647.5,918.5 652.2,921.5 657,925.1 661.8,929.4 665.1,933 596.8,933 585.5,927.4 576,923.3 561.7,917.6 542.6,910.9 523.5,904.4 509.2,899.9 456.7,884.7 437.6,878.7 413.8,871.8 394.8,865.9 385.2,862.7 375.7,859.2 366.2,855.4 357.5,851.5 337.5,844 323.2,837.9 313.7,833.4 304.2,828.2 297.8,824.4 285.1,818.3 275.6,813.4 261.2,805.2 256.5,802.1 249.3,797.2 237.4,790.5 223.1,781.7 213.6,775.4 206.2,770 185,756.5 175.4,750 165.5,742.9 137.3,723.8ZM118.2,905.8 118.2,893.1 142,899.2 161.1,904.4 194.5,914.7 208.8,919.5 223.1,924.6 232.6,928.4 243,933 175.7,933 151.6,926 118.2,917.3Z"/>
<path fill="#F4F4F4" fill-rule="evenodd" d="M175.4,118.2 244.3,118.2 261.2,123.7 270.8,127 280.3,130.6 289.9,134.5 299.4,139 304.2,141.5 310.7,145.4 323.2,151.2 332.8,156.2 337.5,158.9 347.1,164.9 351.8,168.3 357.2,172.5 366.2,178.1 375.7,184.6 385.2,192.1 393.7,199.7 399.5,204.1 409.1,211.9 418.6,220.5 424.9,226.8 432.9,233.9 442.4,242.9 453.2,254 461.5,262 471.1,271.6 480.1,281.2 494.9,296.2 506.4,308.3 533.2,335.5 561.6,362.6 580.7,379.4 593.1,389.8 599.8,395 609.3,402.1 623.6,412.3 630.4,417 637.9,421.7 657,432.9 676.1,443.2 680.9,445.6 690.4,449.9 704.7,456 742.8,471.3 757.2,475.9 804.8,490.5 819.1,495.4 827.2,498.4 852.5,505.6 862.1,508.5 871.6,511.7 881.1,515.3 890.7,519.5 895.4,521.9 901.9,525.6 909.7,528.4 919.3,532.1 928.8,536.4 933.6,538.7 943.1,544.2 947.9,547.4 954.7,552.8 967,558.8 976.5,564.3 981.3,567.3 986,570.6 990.8,574.3 997.2,579.9 1009.9,587.3 1019.4,593.6 1028.9,600.8 1036.2,607.1 1048,614.5 1057.6,621.1 1067.1,628.3 1074.2,634.2 1086.2,642.1 1095.7,648.7 1105.2,655.7 1112.4,661.4 1133.8,675.9 1151.5,688.6 1200.6,721.4 1214.9,730.5 1248.3,751 1267.4,761.8 1283,770 1296,777.3 1305.5,782.1 1324.6,790.8 1339.7,797.2 1353.2,803.2 1362.7,807 1372.3,810.6 1386.6,815.5 1429.5,828.8 1453.3,835.2 1486.7,843.2 1486.7,864.8 1462.9,858.5 1448.6,854.4 1439.5,851.5 1419.9,846.3 1405.6,842.2 1391.3,837.8 1377,832.7 1367.5,828.9 1357.8,824.4 1338.9,817.3 1324.6,811.2 1315,806.5 1310.3,804 1305.5,801.2 1299,797.2 1286.4,791.2 1276.9,786.2 1267.4,780.8 1262.6,777.8 1251.1,770 1238.7,763 1229.2,757.3 1219.7,751.1 1208.1,742.9 1186.3,729 1176.8,722.6 1167.3,715.7 1143.4,699.7 1114.8,679.8 1087.5,661.4 1071.9,650.4 1047,634.2 1038.5,628.2 1028.9,621.8 1019.4,615.9 1004.4,607.1 995.6,601 981.3,592.4 971.7,587.2 957.4,579.9 947.9,574.2 933.6,566.7 919.3,560.1 901.3,552.8 895.4,549.9 885.9,545.6 876.4,541.8 866.8,538.3 852.5,533.3 828.2,525.6 819.1,522.4 804.8,517.7 747.6,500.2 719,490.5 699.9,483.6 685.6,477.9 676.1,473.7 652.2,462.4 637.9,454.8 628.4,449.2 623.6,446.1 609.3,436.9 599.8,430.3 590.3,423.2 585.5,419.4 571.2,407.8 561.7,399.6 537.8,377.4 528.3,367.9 509.2,348.5 466.3,303.3 444.8,281.2 428.1,264.7 409.1,246.7 394.8,234.1 375.7,218.2 361.4,207.3 342.3,193.7 328,184.5 318.5,178.8 299.4,167.9 285.1,160.6 266,151.8 246.9,143.6 237.4,139.7 227.9,136.1 213.6,131.1ZM469.8,118.2 538.8,118.2 576,132.1 595,140 614.1,148.8 628.4,155.6 637.9,160.5 647.5,165.7 671.3,180.1 685.6,189.3 695.2,196 714.2,210.2 728.5,221.5 747.6,237.6 757.2,245.9 785.8,272.3 819.1,304.6 833.4,318.9 862.1,346.9 890.7,373.5 900.2,381.8 914.5,393.9 924,401.5 938.3,412.1 957.4,425.2 967,431.1 976.5,436.6 986,441.8 1000.3,449.3 1009.9,453.8 1019.4,458.1 1038.5,465.9 1057.6,473.3 1081.4,481.4 1119.5,493.4 1134.8,498.4 1172,509.2 1191.1,515.2 1205.4,520.2 1218.6,525.6 1234,530.7 1243.5,534.1 1257.8,539.8 1267.4,544 1276.9,548.9 1283.6,552.8 1296,558.1 1310.3,565 1319.8,570.3 1324.6,573.2 1334.6,579.9 1348.4,587.3 1362.7,595.8 1372.3,602.2 1378.8,607.1 1391.3,614.6 1405.6,623.8 1415.2,630.6 1419.9,634.2 1443.8,649.9 1459.7,661.4 1486.7,679.8 1486.7,697.4 1474.7,688.6 1424.7,654.5 1381.8,626.8 1372.3,621 1347.9,607.1 1334.1,598.8 1324.6,593.6 1310.3,586.4 1296.5,579.9 1286.4,574.7 1272.1,568 1253.1,560.2 1233.3,552.8 1219.7,547.4 1210.1,544 1195.8,539.2 1176.8,533.4 1138.6,522.3 1071.9,504.3 1052.7,498.4 1028.9,491.5 1009.9,485.4 1000.3,481.9 990.8,478 986,475.8 977.3,471.3 962.2,464.6 952.7,459.8 947.9,457.1 938.3,451 933.6,447.5 929.4,444.1 919.3,437.6 909.7,430.6 905,426.7 900.2,422.5 894.7,417 885.9,409.8 881.1,405.7 871.6,396.4 865.6,389.8 857.3,382.2 852.5,377.5 847.7,372.6 838.9,362.6 833.4,357.4 823.9,347.7 812.9,335.5 800.1,322.8 786.5,308.3 771.5,294 758.6,281.2 728.5,254 694.9,226.8 685.6,220.2 666.6,207.1 655.6,199.7 652.2,197.6 633.2,186.6 609.3,173.6 604.6,171.1 585.5,162.4 545.6,145.4 490.1,126 480.6,122.5ZM885.5,118.2 946.3,118.2 962.2,125.2 976.5,132.4 986,137.8 990.8,140.8 997.3,145.4 1005.1,149.8 1014.6,155.6 1024.2,162 1028.9,165.5 1037.7,172.5 1048,179.8 1057.6,187 1067.1,194.9 1072.3,199.7 1081.4,206.9 1090.9,215 1103.8,226.8 1114.8,236.4 1124.3,245 1133.7,254 1152.9,271.8 1195.8,312.4 1224.4,338.6 1238.7,351.1 1257.8,367 1267.4,374.6 1281.7,385.3 1296,395.4 1305.5,401.6 1319.8,410.4 1331.1,417 1338.9,421.2 1348.4,426 1358,430.5 1372.3,436.9 1389.4,444.1 1400.9,448.3 1415.2,453.1 1474.7,471.3 1486.7,474.2 1486.7,500.3 1429.5,484.3 1410.4,478.7 1396.1,474 1367.5,463.8 1358,460.1 1348.4,456.1 1334.1,449.4 1310.3,436.7 1296,428.3 1286.4,421.9 1279.7,417 1272.1,411.8 1262.6,404.8 1253.1,397.3 1244.6,389.8 1229.2,376.9 1195.8,345.8 1185.7,335.5 1167.2,317.8 1157.9,308.3 1143.4,294.6 1129.7,281.2 1100.3,254 1086.2,241.6 1067.1,225.3 1057.6,217.5 1043.2,206.4 1024.2,192.2 1009.9,182.4 986,167.1 971.7,158.7 952.7,148.5 933.6,138.9 914.5,130.3ZM1210.5,118.2 1270,118.2 1296,128.8 1305.5,133 1315,137.6 1348.4,155.3 1358,160.8 1367.5,166.7 1391.3,182.6 1400.9,189.3 1410.4,196.5 1429.5,211.3 1443.8,223.2 1462.9,240 1477.2,253.1 1486.7,262.3 1486.7,296.4 1472.7,281.2 1444.6,254 1413.2,226.8 1396.1,213.7 1377,199.7 1362.7,190.2 1343.7,178.4 1329.3,170 1310.3,160 1286.4,148.4 1272.1,142 1257.8,136.1ZM118.2,308.3 118.2,294 132.9,308.3 159.5,335.5 170.7,347.4 185.7,362.6 199.3,376.8 223.1,400 232.6,408.6 251.7,424.9 261.2,432.4 270.8,439.3 285.1,449.1 289.9,452.2 299.4,458 313.7,465.8 332.8,475.4 347.1,481.8 366.2,489.4 390.5,498.4 409.1,504.7 456.7,519.4 475.4,525.6 499.7,532.8 514,537.3 528.3,542.2 537.8,545.7 547.3,549.6 554.2,552.8 576,560.9 590.3,567 599.8,571.6 604.6,574.1 614.5,579.9 623.6,584.2 633.2,588.9 647.5,596.8 657,602.8 663.1,607.1 676.1,614.3 690.4,623.1 699.9,629.7 706.1,634.2 719,642.3 733.3,651.8 746.4,661.4 771.5,678.3 790.5,692 819.1,711.7 838.2,725.2 864.9,742.9 876.4,751 885.9,757.2 907.1,770 919.3,778.2 928.8,783.9 938.3,789.2 953.9,797.2 962.2,802.2 967,804.9 981.3,812.1 995.6,818.5 1010,824.4 1019.4,828.8 1028.9,832.9 1038.5,836.6 1052.8,841.6 1067.1,846.3 1084.2,851.5 1095.7,855.4 1105.2,858.4 1124.3,863.9 1172,877.2 1214.9,890 1229.2,894.5 1238.7,897.8 1253.1,903.2 1272.1,910.9 1286.4,917.1 1300.7,924 1310.3,929.2 1316.6,933 1264.1,933 1248.3,926.2 1234,920.6 1192.7,905.8 1172,899.7 1124.3,886.4 1110,882.1 1099.8,878.7 1067.1,870.1 1048,864.4 1038.5,861 1028.9,857.2 1024.2,855.1 1017.3,851.5 1005.1,847.4 990.8,841.8 981.3,837.5 976.5,835 971.7,832.3 967,829.3 960.2,824.4 952.7,820.9 943.1,816 933.6,810.5 928.8,807.4 924,804 919.3,800.3 915.7,797.2 909.7,793.9 900.2,788.2 890.7,781.9 881.1,774.7 875.7,770 866.8,764.5 857.3,758.2 847.7,751.3 837.3,742.9 819.1,730.7 809.6,723.9 798.9,715.7 776.2,700.2 759.9,688.6 709.5,655 695.2,646 661.8,625.9 647.5,617.9 626.4,607.1 614.1,600.5 599.8,593.7 580.7,585.4 552.1,573.7 533,566.7 509.2,558.9 485.4,551.5 471.1,547.3 452,542.2 409.1,531 390.6,525.6 356.6,516.7 337.5,511.1 328,507.9 318.5,504.1 313.7,501.9 307.1,498.4 294.6,493.5 285.1,489.3 280.3,486.9 275.6,484.2 270.8,481.3 266,478 261.2,474.2 258,471.3 251.7,467.4 246.9,464.2 242.2,460.7 237.4,456.8 232.6,452.6 227.9,447.8 224.6,444.1 218.3,438.9 213.6,434.6 208.8,430 204,424.9 197.4,417 189.7,409.4 185,404.3 180.2,398.9 172.9,389.8 161.1,377.1 156.3,371.5 149.2,362.6 137.3,349.8 125.1,335.5 118.2,328.5ZM118.2,525.6 118.2,502.4 151.6,510.4 165.9,514.1 175.4,516.9 189.7,521.7 199.3,525.6 213.6,529.4 227.9,533.9 237.4,537.4 246.9,541.6 251.7,544.1 256.5,546.9 261.2,550.3 264.3,552.8 270.8,555.4 280.3,559.8 289.9,565 294.6,568.1 299.4,571.5 304.2,575.5 308.7,579.9 318.5,585.2 323.2,588.1 332.8,594.5 337.5,598.3 342.3,602.4 347.1,607.1 356.6,612.9 366.2,619.4 375.7,626.9 383.9,634.2 394.8,641.4 404.3,648.2 413.8,655.7 420.5,661.4 437.7,673.3 447.2,680.4 457.6,688.6 480.6,704.7 499.7,718.5 542.6,747.7 552.1,753.9 590.3,777.4 599.8,783 609.3,788.2 626.8,797.2 637.9,803.2 647.5,808 657,812.3 671.3,818.4 695.2,828.2 704.7,831.9 714.2,835.3 738.1,843.1 776.2,854.5 795.3,859.7 833.4,869.7 847.7,873.7 863.7,878.7 881.1,883.6 895.4,887.9 905,891 914.5,894.4 924,898.3 928.8,900.4 933.6,902.7 939.3,905.8 952.7,911.6 962.2,916.2 971.7,921.5 976.5,924.5 981.3,927.7 988.1,933 933.7,933 919.3,925.8 905,919.5 890.7,913.8 866.8,904.9 852.5,900.1 838.2,895.6 800.1,884.3 782.3,878.7 747.6,868.9 728.5,862.9 714.2,857.9 704.7,854.1 699,851.5 680.9,845.1 671.3,841.3 661.8,837.2 652.2,832.5 647.5,830 638,824.4 623.6,817.5 609.3,809.8 599.8,803.9 590.3,797.2 576,789 566.4,783 556.9,776.5 548.3,770 533,760.2 523.5,753.7 508.9,742.9 485.4,726.6 466.3,712.7 437.7,692.4 418.6,678.5 393.6,661.4 385.2,655.1 375.7,648.4 366.2,642.2 353.5,634.2 347.1,629.5 337.5,623 323.2,614.3 310.3,607.1 304.2,602.9 294.6,596.9 280.3,589.2 270.8,584.6 260.3,579.9 251.7,575.1 246.9,572.6 237.4,568.2 227.9,564.2 213.6,558.8 195.7,552.8 185,548.5 170.7,543.6 151.6,537.8 118.2,528.7ZM118.2,715.7 118.2,710.3 137.3,723.8 165.5,742.9 180.2,753.3 189.7,759.6 206.2,770 218.3,778.6 227.9,784.7 237.4,790.5 249.3,797.2 256.5,802.1 261.2,805.2 270.8,810.8 285.1,818.3 297.8,824.4 308.9,830.9 313.7,833.4 323.2,837.9 337.5,844 357.5,851.5 370.9,857.4 380.5,861 390,864.3 404.3,868.9 437.6,878.7 456.7,884.7 509.2,899.9 523.5,904.4 547.3,912.5 561.7,917.6 576,923.3 585.5,927.4 596.8,933 529.1,933 509.2,926.4 461.5,912 442.6,905.8 404.3,896.2 385.2,890.7 370.9,885.7 361.4,881.6 355.8,878.7 347.1,876 337.5,872.9 328,869.3 323.2,867.3 313.7,862.6 308.9,859.8 304.2,856.6 298,851.5 285.1,845.6 275.6,840.4 270.8,837.4 266,834.1 261.2,830.4 254.7,824.4 242.2,817.3 232.6,811.1 227.9,807.6 223.1,803.8 215.8,797.2 204,789.9 194.5,783.3 185,776 178,770 161.1,758.8 151.6,752 140.1,742.9 118.2,728ZM118.2,878.7 118.2,871.4 148.3,878.7 199.3,890.1 213.6,893.6 223.1,896.1 237.4,900.6 242.2,902.4 250.5,905.8 266,910.8 280.3,916.3 289.9,920.6 294.6,923.1 299.4,926 304.2,929.2 308.9,933 243,933 232.6,928.4 223.1,924.6 208.8,919.5 194.5,914.7 161.1,904.4 142,899.2 118.2,893.1Z"/>
<path fill="#C8E0EE" fill-rule="evenodd" d="M244.3,118.2 469.8,118.2 480.6,122.5 490.1,126 545.6,145.4 585.5,162.4 604.6,171.1 607.4,172.5 623.6,181.3 642.7,192 655.6,199.7 676.1,213.5 690.4,223.6 694.9,226.8 728.5,254 758.6,281.2 771.5,294 786.5,308.3 800.1,322.8 812.9,335.5 823.9,347.7 833.4,357.4 838.9,362.6 847.7,372.6 852.5,377.5 857.3,382.2 865.6,389.8 871.6,396.4 881.1,405.7 885.9,409.8 894.7,417 900.2,422.5 905,426.7 909.7,430.6 919.3,437.6 929.4,444.1 933.6,447.5 938.3,451 947.9,457.1 952.7,459.8 962.2,464.6 977.3,471.3 986,475.8 990.8,478 1000.3,481.9 1009.9,485.4 1028.9,491.5 1052.7,498.4 1071.9,504.3 1138.6,522.3 1176.8,533.4 1195.8,539.2 1210.1,544 1219.7,547.4 1233.3,552.8 1253.1,560.2 1272.1,568 1286.4,574.7 1296.5,579.9 1310.3,586.4 1324.6,593.6 1334.1,598.8 1347.9,607.1 1372.3,621 1381.8,626.8 1424.7,654.5 1474.7,688.6 1486.7,697.4 1486.7,715.6 1467.6,702.5 1458.1,695.4 1449.5,688.6 1424.7,672.2 1409.1,661.4 1365,634.2 1353.2,627.4 1343.7,622.2 1324.6,612.1 1305.5,602.3 1291.2,595.6 1276.9,589.3 1253.1,579.4 1238.7,573.9 1224.4,569 1205.4,562.9 1171.3,552.8 1157.7,549.4 1138.6,545.2 1114.8,540.7 1095.7,537.7 1076.6,535.2 1062.3,534 1052.8,533.6 1043.2,533.9 1038.5,534.5 1033.7,535.7 1028.9,537.8 1024.2,541.7 1019.4,549.8 1018.4,552.8 1024.2,557.2 1028.9,561.8 1033.7,567.6 1038.5,575.7 1040.4,579.9 1048,585.3 1052.8,589.1 1057.6,593.3 1062.3,598.1 1067.1,603.7 1069.6,607.1 1076.6,611.8 1086.2,619 1090.9,623 1095.7,627.3 1102.5,634.2 1114.8,642.6 1124.3,649.7 1129.1,653.6 1138.1,661.4 1157.7,674.6 1167.2,681.5 1176.4,688.6 1200.6,704.2 1217.8,715.7 1234,725.5 1263.8,742.9 1276.9,750 1296,759.6 1319.8,771.1 1329.3,775.4 1343.7,781.3 1362.7,788.5 1386.6,797 1396.1,800 1410.4,804.2 1424.7,808 1443.8,812.5 1462.9,816.6 1486.7,821.4 1486.7,843.2 1453.3,835.2 1429.5,828.8 1391.3,817 1377,812.3 1367.5,808.8 1358,805.2 1348.4,801.2 1339.7,797.2 1319.8,788.7 1310.3,784.4 1296,777.3 1283,770 1262.6,759.2 1253.1,753.8 1243.5,748.2 1205.4,724.5 1152.9,689.6 1133.8,675.9 1112.4,661.4 1105.2,655.7 1095.7,648.7 1086.2,642.1 1074.2,634.2 1067.1,628.3 1057.6,621.1 1048,614.5 1036.2,607.1 1028.9,600.8 1019.4,593.6 1009.9,587.3 997.2,579.9 990.8,574.3 986,570.6 981.3,567.3 976.5,564.3 967,558.8 954.7,552.8 947.9,547.4 943.1,544.2 938.3,541.3 928.8,536.4 924,534.2 914.5,530.2 901.9,525.6 895.4,521.9 890.7,519.5 881.1,515.3 871.6,511.7 862.1,508.5 852.5,505.6 827.2,498.4 819.1,495.4 804.8,490.5 757.2,475.9 742.9,471.3 704.7,456 685.6,447.8 676.1,443.2 661.8,435.5 647.5,427.4 637.9,421.7 630.4,417 614.1,405.6 604.6,398.6 593.1,389.8 576,375.3 566.4,367 561.6,362.6 533.2,335.5 506.4,308.3 494.9,296.2 480.1,281.2 471.1,271.6 461.5,262 453.2,254 442.4,242.9 432.9,233.9 424.9,226.8 418.6,220.5 413.8,216.1 404.3,207.9 393.7,199.7 385.2,192.1 380.5,188.2 370.9,181.3 357.2,172.5 351.8,168.3 347.1,164.9 337.5,158.9 328,153.6 318.5,148.9 310.7,145.4 304.2,141.5 299.4,139 294.6,136.7 285.1,132.5 275.6,128.8 266,125.3ZM428.1,155.1 424.7,172.5 428.1,175.2 432.9,179.6 437.7,184.9 442.4,191.7 446.5,199.7 452,204.5 456.7,209.2 461.5,214.5 466.3,220.7 470.4,226.8 475.8,231.9 480.6,236.8 485.4,242 490.1,247.7 494.9,254 504.4,263.4 514,273.8 520,281.2 533,293.9 537.8,298.9 546.3,308.3 561.7,322.7 574.5,335.5 595,352.9 606.2,362.6 643.7,389.8 661.8,400.2 692.4,417 709.5,423.7 723.8,428.9 742.8,435.4 770.1,444.1 781,446 790.5,447.2 800.1,448.1 809.6,448.4 819.1,448 823.9,447.3 828.7,446.2 834.5,444.1 833.4,440.8 830.2,417 823.9,409.2 819.1,402 814.4,392.6 813.1,389.8 809.6,385.9 804.8,380.3 800.1,374 795.3,366.8 792.8,362.6 785.8,355.1 781,349.6 776.2,343.6 770.3,335.5 761.9,327.1 757.2,322 752.4,316.7 745.5,308.3 738.1,301.6 728.5,292.5 717.6,281.2 699.9,266.5 685.8,254 661.8,236.9 648.2,226.8 614.1,207.2 601.4,199.7 585.5,192.7 552.1,178.6 538.3,172.5 518.7,166.9 494.9,160.9 471.1,155.5 452,151.8 442.4,150.6 437.7,150.5 432.9,151.2ZM946.3,118.2 1029.6,118.2 1033.7,120.2 1038.5,122.9 1043.2,126.2 1048,130.3 1052.8,136.1 1057.7,145.4 1062.3,148.5 1067.1,152.1 1071.9,156.1 1076.6,160.8 1081.4,166.4 1085.7,172.5 1095.7,180.6 1100.5,185 1105.2,189.9 1110,195.3 1113.5,199.7 1119.5,204.8 1129.1,213.6 1133.8,218.5 1141.3,226.8 1148.2,232.9 1157.7,241.9 1162.5,246.7 1169.3,254 1186.3,269.6 1198,281.2 1214.9,296.3 1227.8,308.3 1259.8,335.5 1295.7,362.6 1315,375.1 1339.2,389.8 1353.2,396.8 1372.3,405.5 1399.1,417 1410.4,420.5 1424.7,424.4 1443.8,429 1458.1,431.9 1472.4,434.1 1481.9,435.2 1486.7,435.5 1486.7,474.2 1474.7,471.3 1424.7,456.1 1405.6,449.9 1389.4,444.1 1362.7,432.6 1348.4,426 1338.9,421.2 1331.1,417 1319.8,410.4 1310.3,404.6 1300.7,398.6 1286.4,388.7 1267.4,374.6 1253.1,363.1 1234,347 1224.4,338.6 1200.6,316.8 1162.7,281.2 1152.9,271.8 1133.7,254 1119.5,240.7 1103.8,226.8 1090.9,215 1081.4,206.9 1072.3,199.7 1067.1,194.9 1057.6,187 1048,179.8 1037.7,172.5 1028.9,165.5 1019.4,158.7 1009.9,152.6 997.3,145.4 990.8,140.8 986,137.8 976.5,132.4 967,127.5 957.4,123.1ZM1127.1,118.2 1210.5,118.2 1253.1,134.3 1267.4,140 1279.9,145.4 1305.5,157.6 1324.6,167.4 1334.1,172.7 1358,187.2 1367.5,193.3 1377,199.7 1396.1,213.7 1413.2,226.8 1444.6,254 1472.7,281.2 1486.7,296.4 1486.7,342.2 1482.7,335.5 1472.4,323.4 1467.6,317.3 1461.2,308.3 1448.6,294.9 1443.8,289.5 1436.8,281.2 1419.9,265.4 1408.6,254 1386.6,236.1 1375.6,226.8 1335.8,199.7 1319.8,190.8 1285.9,172.5 1267.4,164.6 1219.5,145.4 1195.8,138.3 1148.2,124.9 1138.6,122ZM118.2,335.5 118.2,328.5 125.1,335.5 137.3,349.8 149.2,362.6 156.3,371.5 161.1,377.1 172.9,389.8 180.2,398.9 185,404.3 189.7,409.4 197.4,417 204,424.9 208.8,430 213.6,434.6 218.3,438.9 224.6,444.1 227.9,447.8 232.6,452.6 237.4,456.8 242.2,460.7 251.7,467.4 258,471.3 261.2,474.2 266,478 270.8,481.3 275.6,484.2 280.3,486.9 285.1,489.3 294.6,493.5 307.1,498.4 313.7,501.9 318.5,504.1 323.2,506.1 332.8,509.6 342.3,512.6 356.6,516.7 390.6,525.6 399.5,528.3 413.8,532.3 452,542.2 471.1,547.3 485.4,551.5 509.2,558.9 533,566.7 552.1,573.7 585.5,587.4 599.8,593.7 614.1,600.5 626.4,607.1 642.7,615.4 657,623.2 666.6,628.7 675.5,634.2 695.2,646 709.5,655 752.4,683.5 759.9,688.6 776.2,700.2 798.9,715.7 804.8,720.3 814.4,727.4 823.9,734 837.3,742.9 843,747.6 852.5,754.8 862.1,761.4 875.7,770 881.1,774.7 885.9,778.4 895.4,785.2 905,791.1 915.7,797.2 919.3,800.3 924,804 928.8,807.4 933.6,810.5 938.3,813.4 947.9,818.5 960.2,824.4 967,829.3 971.7,832.3 981.3,837.5 986,839.7 995.6,843.8 1005.1,847.4 1017.3,851.5 1024.2,855.1 1033.7,859.2 1048,864.4 1067.1,870.1 1099.8,878.7 1110,882.1 1124.3,886.4 1172,899.7 1192.7,905.8 1234,920.6 1248.3,926.2 1264.1,933 1197.6,933 1181.5,928.6 1167.2,925.1 1148.2,920.8 1129.1,917 1110,913.5 1095.7,911.4 1086.2,910.3 1076.6,909.8 1071.9,910 1067.1,910.9 1062.3,913.3 1057.6,920.6 1055,933 988.1,933 981.3,927.7 976.5,924.5 971.7,921.5 962.2,916.2 952.7,911.6 939.3,905.8 933.6,902.7 928.8,900.4 924,898.3 914.5,894.4 905,891 895.4,887.9 881.1,883.6 863.7,878.7 847.7,873.7 833.4,869.7 795.3,859.7 776.2,854.5 742.8,844.5 723.8,838.5 709.5,833.6 699.9,830.1 671.3,818.4 652.2,810.2 637.9,803.2 626.8,797.2 604.6,785.6 595,780.2 585.5,774.5 578.5,770 556.9,756.9 547.3,750.8 504.4,721.8 495.7,715.7 480.6,704.7 457.6,688.6 452,684.1 442.4,676.8 432.9,669.9 420.5,661.4 413.8,655.7 404.3,648.2 394.8,641.4 383.9,634.2 375.7,626.9 366.2,619.4 356.6,612.9 347.1,607.1 342.3,602.4 337.5,598.3 332.8,594.5 323.2,588.1 318.5,585.2 308.7,579.9 304.2,575.5 299.4,571.5 294.6,568.1 289.9,565 280.3,559.8 270.8,555.4 264.3,552.8 261.2,550.3 256.5,546.9 251.7,544.1 246.9,541.6 242.2,539.4 232.6,535.5 218.3,530.8 199.3,525.6 194.5,523.5 185,519.9 170.7,515.5 151.6,510.4 118.2,502.4 118.2,462.8 123,462.8 127.7,462.5 132.5,461.8 137.3,460.6 142,458.7 146.8,455.5 151.6,450.1 154.9,444.1 151.6,438 146.8,425.3 144.6,417 142,413.5 137.3,406.5 132.5,398.3 128.4,389.8 123,383 118.2,376.5ZM370.9,576.8 369.2,579.9 375.7,585.8 380.5,591.5 385.2,599.4 388.5,607.1 394.8,611.6 399.5,615.5 404.3,619.8 409.1,624.7 413.8,630.4 416.7,634.2 423.4,638.9 432.9,646.2 437.7,650.3 442.4,654.7 449,661.4 456.7,666.7 466.3,673.7 475.8,681.2 484.3,688.6 504.4,702.3 514,709.2 522.4,715.7 552.1,734.9 564.1,742.9 571.2,747.1 611.3,770 628.4,778.8 642.7,785.6 668.4,797.2 680.9,802.3 695.2,807.5 714.2,814 746.9,824.4 761.9,828.2 781,832.4 804.8,837 819.1,839.4 833.4,841.6 847.7,843.4 857.3,844.4 866.8,845.1 871.6,845.2 876.4,845.1 881.1,844.7 885.9,843.6 890.7,841.2 895.4,835.1 898.5,824.4 895.4,822.5 890.7,819.1 885.9,815.1 881.1,810.1 876.4,803.5 872.9,797.2 866.8,793.3 862.1,789.8 857.3,786.1 852.5,781.9 847.7,777.1 841.8,770 833.4,764.4 823.9,757.4 819.1,753.5 814.4,749.2 807.9,742.9 795.3,734.4 785.8,727.4 776.2,719.8 771.6,715.7 757.2,706.2 747.6,699.6 732.6,688.6 704.7,670.9 690.1,661.4 685.6,658.7 671.3,650.5 642.3,634.2 628.4,627.1 609.3,618.1 584.9,607.1 571.2,601.5 556.9,596.3 537.8,589.8 507,579.9 490.1,575.6 471.1,571.5 456.7,568.8 447.2,567.3 428.1,564.7 413.8,563.6 404.3,563.3 399.5,563.5 394.8,563.9 390,564.6 385.2,565.8 380.5,567.9 375.7,571.1ZM118.2,742.9 118.2,728 140.1,742.9 151.6,752 161.1,758.8 178,770 185,776 194.5,783.3 204,789.9 215.8,797.2 223.1,803.8 227.9,807.6 232.6,811.1 242.2,817.3 254.7,824.4 261.2,830.4 266,834.1 270.8,837.4 275.6,840.4 285.1,845.6 298,851.5 304.2,856.6 308.9,859.8 313.7,862.6 323.2,867.3 328,869.3 337.5,872.9 347.1,876 355.8,878.7 361.4,881.6 370.9,885.7 385.2,890.7 404.3,896.2 442.6,905.8 461.5,912 509.2,926.4 529.1,933 308.9,933 304.2,929.2 299.4,926 294.6,923.1 285.1,918.3 280.3,916.3 270.8,912.5 261.2,909.2 250.5,905.8 242.2,902.4 232.6,899 218.3,894.8 204,891.2 148.3,878.7 118.2,871.4 118.2,849.4 129.3,851.5 142,853.1 156.3,854.4 170.7,855.1 185,855.1 194.5,854.5 199.3,853.9 204,853 209.8,851.5 208.8,848.8 205.5,824.4 199.3,819.7 194.5,815.6 189.7,810.8 185,805 179.8,797.2 170.7,790.8 165.9,787 161.1,783 156.3,778.6 151.6,773.7 148.4,770 142,765.7 132.5,758.9 123,751.3 118.2,747.1Z"/>
<path fill="#83B8D9" fill-rule="evenodd" d="M1029.6,118.2 1127.1,118.2 1138.6,122 1148.2,124.9 1195.8,138.3 1219.5,145.4 1267.4,164.6 1285.9,172.5 1319.8,190.8 1335.8,199.7 1375.6,226.8 1386.6,236.1 1408.6,254 1419.9,265.4 1436.8,281.2 1443.8,289.5 1448.6,294.9 1461.2,308.3 1467.6,317.3 1472.4,323.4 1482.7,335.5 1486.7,342.2 1486.7,435.5 1477.2,434.7 1467.6,433.4 1458.1,431.9 1443.8,429 1434.2,426.8 1419.9,423.2 1410.4,420.5 1399.1,417 1367.5,403.4 1353.2,396.8 1339.2,389.8 1315,375.1 1295.7,362.6 1259.8,335.5 1227.8,308.3 1214.9,296.3 1198,281.2 1186.3,269.6 1169.3,254 1162.5,246.7 1152.9,237.3 1141.3,226.8 1133.8,218.5 1129.1,213.6 1119.5,204.8 1113.5,199.7 1110,195.3 1105.2,189.9 1100.5,185 1095.7,180.6 1085.7,172.5 1081.4,166.4 1076.6,160.8 1071.9,156.1 1067.1,152.1 1062.3,148.5 1057.7,145.4 1052.8,136.1 1048,130.3 1043.2,126.2 1038.5,122.9 1033.7,120.2ZM1172,192.7 1170.7,199.7 1176.8,206.2 1181.5,212.6 1186.3,220.8 1189.1,226.8 1195.8,233 1200.6,237.9 1205.4,243.2 1210.1,249.2 1213.6,254 1219.7,259.2 1229.2,267.8 1234,272.6 1241.9,281.2 1257.8,293.8 1267.4,302 1274.2,308.3 1296,323.4 1312.6,335.5 1334.1,346.9 1365.9,362.6 1372.3,364.6 1381.8,367 1391.3,368.9 1396.1,369.5 1400.9,369.9 1405.6,370.1 1410.4,369.9 1415.2,369.3 1419.9,368.1 1424.7,366.2 1429.5,363.4 1430.4,362.6 1429.5,349 1429,335.5 1424.7,329.3 1419.9,321.1 1414.1,308.3 1405.6,299.1 1400.9,293.3 1396.1,286.9 1392.2,281.2 1381.8,272.1 1377,267.7 1372.3,263 1363.8,254 1343.7,239.7 1334.1,232.4 1327.3,226.8 1296,209.9 1278.3,199.7 1262.6,194 1243.5,187.7 1224.4,182.1 1210.1,178.5 1200.6,176.7 1195.8,176.1 1191.1,175.9 1186.3,176.2 1181.5,177.6 1176.8,181.3ZM424.7,172.5 428.1,155.1 432.9,151.2 437.7,150.5 442.4,150.6 452,151.8 471.1,155.5 494.9,160.9 518.7,166.9 538.3,172.5 552.1,178.6 585.5,192.7 601.4,199.7 614.1,207.2 648.2,226.8 661.8,236.9 685.8,254 699.9,266.5 717.6,281.2 728.5,292.5 738.1,301.6 745.5,308.3 752.4,316.7 757.2,322 761.9,327.1 770.3,335.5 776.2,343.6 781,349.6 785.8,355.1 792.8,362.6 795.3,366.8 800.1,374 804.8,380.3 809.6,385.9 813.1,389.8 814.4,392.6 819.1,402 823.9,409.2 830.2,417 833.4,440.8 834.5,444.1 828.7,446.2 823.9,447.3 819.1,448 809.6,448.4 800.1,448.1 790.5,447.2 781,446 770.1,444.1 742.8,435.4 723.8,428.9 709.5,423.7 692.4,417 661.8,400.2 643.7,389.8 606.2,362.6 595,352.9 574.5,335.5 561.7,322.7 546.3,308.3 537.8,298.9 533,293.9 520,281.2 514,273.8 504.4,263.4 494.9,254 490.1,247.7 485.4,242 480.6,236.8 475.8,231.9 470.4,226.8 466.3,220.7 461.5,214.5 456.7,209.2 452,204.5 446.5,199.7 442.4,191.7 437.7,184.9 432.9,179.6 428.1,175.2ZM571.2,251.9 568.7,254 571.2,256.6 576,262.8 580.7,273 583,281.2 590.3,287.2 595,291.6 599.8,296.6 604.6,302.5 608.4,308.3 618.9,315.4 628.4,322.2 633.2,326 637.9,330.1 643.4,335.5 652.2,339.5 661.8,343.3 671.3,346.6 676.1,347.8 680.9,348.7 685.6,349 690.4,348.2 695.2,345.2 699.9,336.8 700.3,335.5 695.2,330.2 690.4,324.3 685.6,316.2 682.3,308.3 671.3,299.8 666.6,295.7 661.8,291 657,285.6 653.7,281.2 637.9,272.3 628.4,266.6 618.9,260.3 611,254 604.6,252 595,249.8 590.3,249 585.5,248.6 580.7,248.7 576,249.6ZM118.2,389.8 118.2,376.5 123,383 128.4,389.8 132.5,398.3 137.3,406.5 142,413.5 144.6,417 146.8,425.3 151.6,438 154.9,444.1 151.6,450.1 146.8,455.5 142,458.7 137.3,460.6 132.5,461.8 127.7,462.5 123,462.8 118.2,462.8ZM1018.4,552.8 1019.4,549.8 1024.2,541.7 1028.9,537.8 1033.7,535.7 1038.5,534.5 1043.2,533.9 1048,533.6 1057.6,533.7 1067.1,534.3 1076.6,535.2 1090.9,537 1105.2,539.1 1124.3,542.4 1138.6,545.2 1152.9,548.3 1171.3,552.8 1210.1,564.3 1234,572.2 1253.1,579.4 1281.7,591.4 1296,597.8 1305.5,602.3 1338.9,619.6 1358,630.1 1365,634.2 1409.1,661.4 1424.7,672.2 1449.5,688.6 1458.1,695.4 1467.6,702.5 1486.7,715.6 1486.7,742 1477.2,734.9 1472.4,730.8 1467.6,726.5 1462.9,721.6 1457.7,715.7 1448.6,709.6 1439,702.8 1429.5,695.3 1421.8,688.6 1405.6,678.5 1396.1,672.3 1380.7,661.4 1348.4,643.2 1333.3,634.2 1315,625.4 1275.4,607.1 1262.6,602.2 1248.3,597.2 1234,592.5 1214.9,586.6 1191.9,579.9 1181.5,577.9 1172,576.3 1157.7,574.4 1148.2,573.6 1138.6,573.3 1129.1,573.5 1124.3,573.9 1119.5,574.6 1114.8,575.6 1110,577 1105.2,578.9 1103.1,579.9 1105.2,585 1109.4,607.1 1114.8,611.4 1119.5,615.8 1124.3,620.7 1129.1,626.5 1134.3,634.2 1143.4,640.7 1152.9,648.3 1157.7,652.6 1162.5,657.2 1166.4,661.4 1176.8,668.2 1186.3,674.8 1195.8,682 1203.7,688.6 1229.2,704.2 1238.7,710.4 1246.4,715.7 1281.7,734.6 1296.7,742.9 1310.3,749 1329.3,757 1361.4,770 1367.5,772 1381.8,776.3 1400.9,781.3 1419.9,785.5 1439,789.1 1453.3,791.1 1462.9,792 1467.6,792.2 1477.2,792.2 1481.9,791.7 1486.7,790.9 1486.7,821.4 1453.3,814.6 1439,811.4 1424.7,808 1410.4,804.2 1400.9,801.5 1387.3,797.2 1377,793.6 1348.4,783.1 1334.1,777.4 1324.6,773.3 1291.2,757.3 1276.9,750 1263.8,742.9 1234,725.5 1217.8,715.7 1200.6,704.2 1176.4,688.6 1167.2,681.5 1157.7,674.6 1138.1,661.4 1129.1,653.6 1124.3,649.7 1114.8,642.6 1102.5,634.2 1095.7,627.3 1090.9,623 1086.2,619 1076.6,611.8 1069.6,607.1 1067.1,603.7 1062.3,598.1 1057.6,593.3 1052.8,589.1 1048,585.3 1040.4,579.9 1038.5,575.7 1033.7,567.6 1028.9,561.8 1024.2,557.2ZM369.2,579.9 370.9,576.8 375.7,571.1 380.5,567.9 385.2,565.8 390,564.6 394.8,563.9 399.5,563.5 404.3,563.3 409.1,563.4 418.6,563.9 428.1,564.7 437.7,565.9 456.7,568.8 471.1,571.5 480.6,573.5 494.9,576.8 504.4,579.2 523.5,585.1 542.6,591.3 561.7,598 580.7,605.3 604.6,615.9 623.6,624.8 642.3,634.2 671.3,650.5 685.6,658.7 690.1,661.4 704.7,670.9 732.6,688.6 747.6,699.6 757.2,706.2 771.6,715.7 776.2,719.8 785.8,727.4 795.3,734.4 807.9,742.9 814.4,749.2 819.1,753.5 823.9,757.4 833.4,764.4 841.8,770 847.7,777.1 852.5,781.9 857.3,786.1 862.1,789.8 866.8,793.3 872.9,797.2 876.4,803.5 881.1,810.1 885.9,815.1 890.7,819.1 895.4,822.5 898.5,824.4 895.4,835.1 890.7,841.2 885.9,843.6 881.1,844.7 876.4,845.1 871.6,845.2 866.8,845.1 857.3,844.4 847.7,843.4 833.4,841.6 819.1,839.4 804.8,837 781,832.4 761.9,828.2 746.9,824.4 714.2,814 695.2,807.5 680.9,802.3 668.4,797.2 642.7,785.6 628.4,778.8 611.3,770 580.7,752.7 564.1,742.9 552.1,734.9 522.4,715.7 514,709.2 504.4,702.3 484.3,688.6 475.8,681.2 466.3,673.7 456.7,666.7 449,661.4 442.4,654.7 437.7,650.3 432.9,646.2 423.4,638.9 416.7,634.2 413.8,630.4 409.1,624.7 404.3,619.8 399.5,615.5 394.8,611.6 388.5,607.1 385.2,599.4 380.5,591.5 375.7,585.8ZM456.7,606.3 454.7,607.1 456.7,619.9 457.7,634.2 461.5,637.3 466.3,641.4 471.1,646.2 475.8,651.7 480.6,658.4 482.4,661.4 490.1,666.8 499.7,674.1 504.4,678.2 509.2,682.7 514.8,688.6 528.3,697.2 537.8,703.8 547.3,711.1 553,715.7 580.7,732 590.3,738 597.6,742.9 637.9,762.7 652.5,770 666.6,775.4 685.6,782 704.7,788.2 734.5,797.2 747.6,799.4 757.2,800.7 766.7,801.5 776.2,801.8 785.8,801.5 790.5,801.1 795.3,800.3 800.1,799.2 805.8,797.2 804.8,795.2 800.1,773.6 799.7,770 795.3,766.7 790.5,762.8 785.8,758.3 781,753.1 776.2,746.8 773.6,742.9 766.7,738.2 757.2,731.1 752.4,727.2 747.6,723 740.3,715.7 728.5,708.3 719,701.9 709.5,695 701.4,688.6 676.1,673.9 666.6,668.1 656.2,661.4 599.8,633.8 585.5,628.4 566.4,621.8 547.3,615.8 518.7,607.2 509.2,605.5 499.7,604.3 490.1,603.5 480.6,603.2 471.1,603.6 466.3,604.2 461.5,605.1ZM118.2,770 118.2,747.1 123,751.3 132.5,758.9 142,765.7 148.4,770 151.6,773.7 156.3,778.6 161.1,783 165.9,787 170.7,790.8 179.8,797.2 185,805 189.7,810.8 194.5,815.6 199.3,819.7 205.5,824.4 208.8,848.8 209.8,851.5 204,853 199.3,853.9 194.5,854.5 185,855.1 170.7,855.1 156.3,854.4 142,853.1 129.3,851.5 118.2,849.4 118.2,816.6 123,814.2 127.7,810.2 132.5,803 134.9,797.2 132.5,795.1 127.7,790.3 123,784.5 118.2,777.1ZM1055,933 1057.6,920.6 1062.3,913.3 1067.1,910.9 1071.9,910 1076.6,909.8 1086.2,910.3 1095.7,911.4 1110,913.5 1129.1,917 1148.2,920.8 1167.2,925.1 1181.5,928.6 1197.6,933Z"/>
<path fill="#3880B8" fill-rule="evenodd" d="M1170.7,199.7 1172,192.7 1176.8,181.3 1181.5,177.6 1186.3,176.2 1191.1,175.9 1195.8,176.1 1205.4,177.5 1219.7,180.8 1238.7,186.2 1257.8,192.3 1278.3,199.7 1296,209.9 1327.3,226.8 1334.1,232.4 1343.7,239.7 1363.8,254 1372.3,263 1377,267.7 1381.8,272.1 1392.2,281.2 1396.1,286.9 1400.9,293.3 1405.6,299.1 1414.1,308.3 1419.9,321.1 1424.7,329.3 1429,335.5 1429.5,349 1430.4,362.6 1429.5,363.4 1424.7,366.2 1419.9,368.1 1415.2,369.3 1410.4,369.9 1405.6,370.1 1400.9,369.9 1396.1,369.5 1391.3,368.9 1381.8,367 1372.3,364.6 1365.9,362.6 1334.1,346.9 1312.6,335.5 1296,323.4 1274.2,308.3 1267.4,302 1257.8,293.8 1241.9,281.2 1234,272.6 1229.2,267.8 1219.7,259.2 1213.6,254 1210.1,249.2 1205.4,243.2 1200.6,237.9 1195.8,233 1189.1,226.8 1186.3,220.8 1181.5,212.6 1176.8,206.2ZM568.7,254 571.2,251.9 576,249.6 580.7,248.7 585.5,248.6 590.3,249 595,249.8 599.8,250.8 609.3,253.4 611,254 618.9,260.3 628.4,266.6 637.9,272.3 653.7,281.2 657,285.6 661.8,291 666.6,295.7 671.3,299.8 682.3,308.3 685.6,316.2 690.4,324.3 695.2,330.2 700.3,335.5 699.9,336.8 695.2,345.2 690.4,348.2 685.6,349 680.9,348.7 676.1,347.8 671.3,346.6 661.8,343.3 652.2,339.5 643.4,335.5 637.9,330.1 633.2,326 628.4,322.2 618.9,315.4 608.4,308.3 604.6,302.5 599.8,296.6 595,291.6 590.3,287.2 583,281.2 580.7,273 576,262.8 571.2,256.6ZM1103.1,579.9 1105.2,578.9 1110,577 1114.8,575.6 1119.5,574.6 1124.3,573.9 1129.1,573.5 1138.6,573.3 1148.2,573.6 1162.5,575 1176.8,577 1191.9,579.9 1219.7,588.1 1238.7,594 1257.8,600.5 1272.1,605.8 1275.4,607.1 1310.3,623.2 1333.3,634.2 1348.4,643.2 1380.7,661.4 1396.1,672.3 1405.6,678.5 1421.8,688.6 1429.5,695.3 1439,702.8 1448.6,709.6 1457.7,715.7 1462.9,721.6 1467.6,726.5 1472.4,730.8 1477.2,734.9 1486.7,742 1486.7,790.9 1481.9,791.7 1477.2,792.2 1467.6,792.2 1462.9,792 1453.3,791.1 1439,789.1 1419.9,785.5 1400.9,781.3 1381.8,776.3 1367.5,772 1361.4,770 1329.3,757 1310.3,749 1296.7,742.9 1281.7,734.6 1248.3,716.7 1246.4,715.7 1238.7,710.4 1229.2,704.2 1203.7,688.6 1195.8,682 1186.3,674.8 1176.8,668.2 1166.4,661.4 1162.5,657.2 1157.7,652.6 1152.9,648.3 1143.4,640.7 1134.3,634.2 1129.1,626.5 1124.3,620.7 1119.5,615.8 1114.8,611.4 1109.4,607.1 1105.2,585ZM1176.8,634.1 1181.5,637.9 1186.3,642 1191.1,646.9 1195.8,652.7 1201.4,661.4 1210.1,666.9 1219.7,673.5 1224.4,677.1 1229.2,681.1 1237.1,688.6 1253.1,697.2 1262.6,702.7 1272.1,708.6 1282.5,715.7 1324.6,733.9 1334.1,738.2 1343.8,742.9 1353.2,745.6 1362.7,748 1372.3,750.2 1381.8,752.1 1396.1,754.2 1405.6,754.9 1410.4,754.9 1415.2,754.7 1419.9,754.1 1424.7,753 1429.5,751.3 1434.2,748.5 1439,744.2 1440,742.9 1434.2,737.4 1429.5,731.7 1424.7,724 1421.1,715.7 1410.4,708.6 1405.6,705.1 1400.9,701.2 1396.1,697 1391.3,692.2 1388,688.6 1372.3,679.6 1362.7,673.7 1353.2,667.2 1345.5,661.4 1310.3,644.6 1300.7,639.8 1290.7,634.2 1276.9,629.5 1262.6,625 1248.3,620.8 1238.7,618.3 1224.4,615 1214.9,613.2 1205.4,612 1200.6,611.8 1195.8,612 1191.1,613 1186.3,615.2 1181.5,620.4ZM454.7,607.1 456.7,606.3 461.5,605.1 466.3,604.2 471.1,603.6 480.6,603.2 490.1,603.5 499.7,604.3 509.2,605.5 518.4,607.1 547.3,615.8 566.4,621.8 585.5,628.4 599.8,633.8 656.2,661.4 666.6,668.1 676.1,673.9 701.4,688.6 709.5,695 719,701.9 728.5,708.3 740.3,715.7 747.6,723 752.4,727.2 757.2,731.1 766.7,738.2 773.6,742.9 776.2,746.8 781,753.1 785.8,758.3 790.5,762.8 795.3,766.7 799.7,770 800.1,773.6 804.8,795.2 805.8,797.2 800.1,799.2 795.3,800.3 790.5,801.1 785.8,801.5 776.2,801.8 766.7,801.5 757.2,800.7 747.6,799.4 734.5,797.2 704.7,788.2 685.6,782 666.6,775.4 652.5,770 637.9,762.7 597.6,742.9 590.3,738 580.7,732 553,715.7 547.3,711.1 537.8,703.8 528.3,697.2 514.8,688.6 509.2,682.7 504.4,678.2 499.7,674.1 490.1,666.8 482.4,661.4 480.6,658.4 475.8,651.7 471.1,646.2 466.3,641.4 461.5,637.3 457.7,634.2 456.7,619.9ZM537.8,658.3 534.6,661.4 537.8,663.6 542.6,667.4 547.3,672 552.1,678.2 557.2,688.6 571.2,696.5 580.7,702.8 585.5,706.4 590.3,710.5 595.4,715.7 614.1,724.1 628.4,730.7 637.9,735.6 642.7,738.3 649.9,742.9 661.8,746.2 676.1,749.4 685.6,751 695.2,751.8 699.9,751.8 704.7,751.3 709.5,750.3 714.2,748.3 719,744.7 720.6,742.9 714.2,738.3 709.5,734.2 704.7,729 699.9,721.6 697.2,715.7 685.6,709.3 676.1,703.3 671.3,700 666.6,696.3 661.8,692 658.5,688.6 637.9,679.5 623.6,672.8 614.1,667.9 609.3,665.1 603.5,661.4 590.3,657.8 580.7,655.7 571.2,654 561.7,653 556.9,652.9 552.1,653.1 547.3,653.9 542.6,655.5ZM118.2,797.2 118.2,777.1 123,784.5 127.7,790.3 132.5,795.1 134.9,797.2 132.5,803 127.7,810.2 123,814.2 118.2,816.6Z"/>
<path fill="#1C4F9E" fill-rule="evenodd" d="M1176.7,634.2 1181.5,620.4 1186.3,615.2 1191.1,613 1195.8,612 1200.6,611.8 1205.4,612 1214.9,613.2 1224.4,615 1238.7,618.3 1248.3,620.8 1262.6,625 1276.9,629.5 1290.7,634.2 1300.7,639.8 1310.3,644.6 1345.5,661.4 1353.2,667.2 1362.7,673.7 1372.3,679.6 1388,688.6 1391.3,692.2 1396.1,697 1400.9,701.2 1405.6,705.1 1410.4,708.6 1421.1,715.7 1424.7,724 1429.5,731.7 1434.2,737.4 1440,742.9 1439,744.2 1434.2,748.5 1429.5,751.3 1424.7,753 1419.9,754.1 1415.2,754.7 1410.4,754.9 1405.6,754.9 1396.1,754.2 1381.8,752.1 1372.3,750.2 1362.7,748 1353.2,745.6 1343.8,742.9 1334.1,738.2 1324.6,733.9 1282.5,715.7 1272.1,708.6 1262.6,702.7 1253.1,697.2 1237.1,688.6 1229.2,681.1 1224.4,677.1 1219.7,673.5 1210.1,666.9 1201.4,661.4 1195.8,652.7 1191.1,646.9 1186.3,642 1181.5,637.9ZM534.6,661.4 537.8,658.3 542.6,655.5 547.3,653.9 552.1,653.1 556.9,652.9 561.7,653 566.4,653.4 576,654.8 590.3,657.8 603.5,661.4 609.3,665.1 614.1,667.9 623.6,672.8 637.9,679.5 658.5,688.6 661.8,692 666.6,696.3 671.3,700 676.1,703.3 685.6,709.3 697.2,715.7 699.9,721.6 704.7,729 709.5,734.2 714.2,738.3 720.6,742.9 719,744.7 714.2,748.3 709.5,750.3 704.7,751.3 699.9,751.8 695.2,751.8 685.6,751 676.1,749.4 661.8,746.2 649.9,742.9 642.7,738.3 637.9,735.6 628.4,730.7 614.1,724.1 595.4,715.7 590.3,710.5 585.5,706.4 580.7,702.8 571.2,696.5 557.2,688.6 552.1,678.2 547.3,672 542.6,667.4 537.8,663.6Z"/>
<path fill="#08224E" d="M1303.2,688.56L1314.1,687.06L1324.4,688.56L1314.1,690.06Z"/>
<path d="M122.97,118.2V933.0M127.74,118.2V933.0M132.50,118.2V933.0M137.27,118.2V933.0M142.04,118.2V933.0M146.81,118.2V933.0M151.58,118.2V933.0M156.35,118.2V933.0M161.11,118.2V933.0M165.88,118.2V933.0M170.65,118.2V933.0M180.19,118.2V933.0M184.96,118.2V933.0M189.72,118.2V933.0M194.49,118.2V933.0M199.26,118.2V933.0M204.03,118.2V933.0M208.80,118.2V933.0M213.57,118.2V933.0M218.33,118.2V933.0M223.10,118.2V933.0M227.87,118.2V933.0M237.41,118.2V933.0M242.18,118.2V933.0M246.94,118.2V933.0M251.71,118.2V933.0M256.48,118.2V933.0M261.25,118.2V933.0M266.02,118.2V933.0M270.79,118.2V933.0M275.55,118.2V933.0M280.32,118.2V933.0M285.09,118.2V933.0M294.63,118.2V933.0M299.40,118.2V933.0M304.16,118.2V933.0M308.93,118.2V933.0M313.70,118.2V933.0M318.47,118.2V933.0M323.24,118.2V933.0M328.00,118.2V933.0M332.77,118.2V933.0M337.54,118.2V933.0M342.31,118.2V933.0M351.85,118.2V933.0M356.61,118.2V933.0M361.38,118.2V933.0M366.15,118.2V933.0M370.92,118.2V933.0M375.69,118.2V933.0M380.46,118.2V933.0M385.22,118.2V933.0M389.99,118.2V933.0M394.76,118.2V933.0M399.53,118.2V933.0M409.07,118.2V933.0M413.83,118.2V933.0M418.60,118.2V933.0M423.37,118.2V933.0M428.14,118.2V933.0M432.91,118.2V933.0M437.68,118.2V933.0M442.44,118.2V933.0M447.21,118.2V933.0M451.98,118.2V933.0M456.75,118.2V933.0M466.29,118.2V933.0M471.05,118.2V933.0M475.82,118.2V933.0M480.59,118.2V933.0M485.36,118.2V933.0M490.13,118.2V933.0M494.90,118.2V933.0M499.66,118.2V933.0M504.43,118.2V933.0M509.20,118.2V933.0M513.97,118.2V933.0M523.50,118.2V933.0M528.27,118.2V933.0M533.04,118.2V933.0M537.81,118.2V933.0M542.58,118.2V933.0M547.35,118.2V933.0M552.11,118.2V933.0M556.88,118.2V933.0M561.65,118.2V933.0M566.42,118.2V933.0M571.19,118.2V933.0M580.72,118.2V933.0M585.49,118.2V933.0M590.26,118.2V933.0M595.03,118.2V933.0M599.80,118.2V933.0M604.57,118.2V933.0M609.33,118.2V933.0M614.10,118.2V933.0M618.87,118.2V933.0M623.64,118.2V933.0M628.41,118.2V933.0M637.94,118.2V933.0M642.71,118.2V933.0M647.48,118.2V933.0M652.25,118.2V933.0M657.02,118.2V933.0M661.79,118.2V933.0M666.55,118.2V933.0M671.32,118.2V933.0M676.09,118.2V933.0M680.86,118.2V933.0M685.63,118.2V933.0M695.16,118.2V933.0M699.93,118.2V933.0M704.70,118.2V933.0M709.47,118.2V933.0M714.24,118.2V933.0M719.00,118.2V933.0M723.77,118.2V933.0M728.54,118.2V933.0M733.31,118.2V933.0M738.08,118.2V933.0M742.85,118.2V933.0M752.38,118.2V933.0M757.15,118.2V933.0M761.92,118.2V933.0M766.69,118.2V933.0M771.46,118.2V933.0M776.22,118.2V933.0M780.99,118.2V933.0M785.76,118.2V933.0M790.53,118.2V933.0M795.30,118.2V933.0M800.07,118.2V933.0M809.60,118.2V933.0M814.37,118.2V933.0M819.14,118.2V933.0M823.91,118.2V933.0M828.68,118.2V933.0M833.44,118.2V933.0M838.21,118.2V933.0M842.98,118.2V933.0M847.75,118.2V933.0M852.52,118.2V933.0M857.29,118.2V933.0M866.82,118.2V933.0M871.59,118.2V933.0M876.36,118.2V933.0M881.13,118.2V933.0M885.90,118.2V933.0M890.66,118.2V933.0M895.43,118.2V933.0M900.20,118.2V933.0M904.97,118.2V933.0M909.74,118.2V933.0M914.50,118.2V933.0M924.04,118.2V933.0M928.81,118.2V933.0M933.58,118.2V933.0M938.35,118.2V933.0M943.11,118.2V933.0M947.88,118.2V933.0M952.65,118.2V933.0M957.42,118.2V933.0M962.19,118.2V933.0M966.96,118.2V933.0M971.72,118.2V933.0M981.26,118.2V933.0M986.03,118.2V933.0M990.80,118.2V933.0M995.57,118.2V933.0M1000.33,118.2V933.0M1005.10,118.2V933.0M1009.87,118.2V933.0M1014.64,118.2V933.0M1019.41,118.2V933.0M1024.18,118.2V933.0M1028.94,118.2V933.0M1038.48,118.2V933.0M1043.25,118.2V933.0M1048.02,118.2V933.0M1052.79,118.2V933.0M1057.55,118.2V933.0M1062.32,118.2V933.0M1067.09,118.2V933.0M1071.86,118.2V933.0M1076.63,118.2V933.0M1081.40,118.2V933.0M1086.16,118.2V933.0M1095.70,118.2V933.0M1100.47,118.2V933.0M1105.24,118.2V933.0M1110.00,118.2V933.0M1114.77,118.2V933.0M1119.54,118.2V933.0M1124.31,118.2V933.0M1129.08,118.2V933.0M1133.85,118.2V933.0M1138.61,118.2V933.0M1143.38,118.2V933.0M1152.92,118.2V933.0M1157.69,118.2V933.0M1162.46,118.2V933.0M1167.22,118.2V933.0M1171.99,118.2V933.0M1176.76,118.2V933.0M1181.53,118.2V933.0M1186.30,118.2V933.0M1191.07,118.2V933.0M1195.83,118.2V933.0M1200.60,118.2V933.0M1210.14,118.2V933.0M1214.91,118.2V933.0M1219.68,118.2V933.0M1224.44,118.2V933.0M1229.21,118.2V933.0M1233.98,118.2V933.0M1238.75,118.2V933.0M1243.52,118.2V933.0M1248.29,118.2V933.0M1253.05,118.2V933.0M1257.82,118.2V933.0M1267.36,118.2V933.0M1272.13,118.2V933.0M1276.90,118.2V933.0M1281.66,118.2V933.0M1286.43,118.2V933.0M1291.20,118.2V933.0M1295.97,118.2V933.0M1300.74,118.2V933.0M1305.50,118.2V933.0M1310.27,118.2V933.0M1315.04,118.2V933.0M1324.58,118.2V933.0M1329.35,118.2V933.0M1334.11,118.2V933.0M1338.88,118.2V933.0M1343.65,118.2V933.0M1348.42,118.2V933.0M1353.19,118.2V933.0M1357.96,118.2V933.0M1362.72,118.2V933.0M1367.49,118.2V933.0M1372.26,118.2V933.0M1381.80,118.2V933.0M1386.57,118.2V933.0M1391.33,118.2V933.0M1396.10,118.2V933.0M1400.87,118.2V933.0M1405.64,118.2V933.0M1410.41,118.2V933.0M1415.18,118.2V933.0M1419.94,118.2V933.0M1424.71,118.2V933.0M1429.48,118.2V933.0M1439.02,118.2V933.0M1443.79,118.2V933.0M1448.55,118.2V933.0M1453.32,118.2V933.0M1458.09,118.2V933.0M1462.86,118.2V933.0M1467.63,118.2V933.0M1472.40,118.2V933.0M1477.16,118.2V933.0M1481.93,118.2V933.0M1486.70,118.2V933.0" stroke="#fff" stroke-opacity="0.38" stroke-width="0.5" fill="none"/>
</g>
<path d="M175.42,118.20V933.00M232.64,118.20V933.00M347.08,118.20V933.00M404.30,118.20V933.00M518.74,118.20V933.00M575.96,118.20V933.00M690.40,118.20V933.00M747.61,118.20V933.00M862.05,118.20V933.00M919.27,118.20V933.00M1033.71,118.20V933.00M1090.93,118.20V933.00M1205.37,118.20V933.00M1262.59,118.20V933.00M1377.03,118.20V933.00M1434.25,118.20V933.00M118.20,118.20H1486.70M118.20,145.36H1486.70M118.20,172.52H1486.70M118.20,199.68H1486.70M118.20,281.16H1486.70M118.20,308.32H1486.70M118.20,335.48H1486.70M118.20,362.64H1486.70M118.20,389.80H1486.70M118.20,471.28H1486.70M118.20,498.44H1486.70M118.20,525.60H1486.70M118.20,552.76H1486.70M118.20,579.92H1486.70M118.20,661.40H1486.70M118.20,688.56H1486.70M118.20,715.72H1486.70M118.20,742.88H1486.70M118.20,770.04H1486.70M118.20,851.52H1486.70M118.20,878.68H1486.70M118.20,905.84H1486.70M118.20,933.00H1486.70" stroke="#808080" stroke-width="0.65" fill="none"/>
<path d="M118.20,118.20V933.00M289.86,118.20V933.00M461.52,118.20V933.00M633.18,118.20V933.00M804.83,118.20V933.00M976.49,118.20V933.00M1148.15,118.20V933.00M1319.81,118.20V933.00M118.20,226.84H1486.70M118.20,254.00H1486.70M118.20,416.96H1486.70M118.20,444.12H1486.70M118.20,607.08H1486.70M118.20,634.24H1486.70M118.20,797.20H1486.70M118.20,824.36H1486.70" stroke="#000" stroke-width="1.5" fill="none"/>
<g clip-path="url(#c)">
<path d="M356.6,118.2L427.2,145.4M427.2,145.4L481.5,172.5M481.5,172.5L523.5,199.7M523.5,199.7L558.8,226.8M558.8,226.8L590.3,254.0M590.3,254.0L617.9,281.2M617.9,281.2L645.6,308.3M645.6,308.3L671.3,335.5M671.3,335.5L699.0,362.6M699.0,362.6L727.6,389.8M727.6,389.8L761.0,417.0M761.0,417.0L802.0,444.1M802.0,444.1L860.1,471.3M860.1,471.3L941.2,498.4M941.2,498.4L1028.0,525.6M1028.0,525.6L1094.7,552.8M1094.7,552.8L1147.2,579.9M1147.2,579.9L1192.0,607.1M1192.0,607.1L1234.0,634.2M1234.0,634.2L1273.1,661.4M1273.1,661.4L1312.2,688.6M1312.2,688.6L1351.3,715.7M1351.3,715.7L1391.3,742.9M1391.3,742.9L1434.2,770.0M1434.2,770.0L1482.9,797.2M169.7,851.5L252.7,878.7M252.7,878.7L346.1,905.8M346.1,905.8L418.6,933.0M1078.5,118.2L1138.6,145.4M1138.6,145.4L1185.3,172.5M1185.3,172.5L1224.4,199.7M1224.4,199.7L1257.8,226.8M1257.8,226.8L1288.3,254.0M1288.3,254.0L1316.9,281.2M1316.9,281.2L1343.7,308.3M1343.7,308.3L1370.4,335.5M1370.4,335.5L1398.0,362.6M1398.0,362.6L1427.6,389.8M1427.6,389.8L1463.8,417.0M136.3,471.3L205.0,498.4M205.0,498.4L296.5,525.6M296.5,525.6L377.6,552.8M377.6,552.8L437.7,579.9M437.7,579.9L486.3,607.1M486.3,607.1L529.2,634.2M529.2,634.2L569.3,661.4M569.3,661.4L607.4,688.6M607.4,688.6L646.5,715.7M646.5,715.7L685.6,742.9M685.6,742.9L725.7,770.0M725.7,770.0L770.5,797.2M770.5,797.2L823.0,824.4M823.0,824.4L892.6,851.5M892.6,851.5L983.2,878.7M983.2,878.7L1066.1,905.8M1066.1,905.8L1126.2,933.0" stroke="#ffff00" stroke-width="3" stroke-dasharray="12 12" stroke-linecap="round" fill="none"/>
<path d="M118.20,118.20L443.78,118.20L487.27,933.00L118.20,933.00Z M1319.24,118.20L1486.70,118.20L1486.70,933.00L1262.59,933.00Z" fill="#3a3a3a" fill-opacity="0.475" stroke="none"/>
</g>
<path d="M118.20,118.20L443.78,118.20L487.27,933.00L118.20,933.00Z M1319.24,118.20L1486.70,118.20L1486.70,933.00L1262.59,933.00Z" fill="none" stroke="#111" stroke-width="0.9"/>
<path d="M118.20,118.20V103.40M118.20,933.00V947.60M289.86,118.20V103.40M289.86,933.00V947.60M461.52,118.20V103.40M461.52,933.00V947.60M633.18,118.20V103.40M633.18,933.00V947.60M804.83,118.20V103.40M804.83,933.00V947.60M976.49,118.20V103.40M976.49,933.00V947.60M1148.15,118.20V103.40M1148.15,933.00V947.60M1319.81,118.20V103.40M1319.81,933.00V947.60M118.20,118.20H103.40M118.20,145.36H103.40M118.20,172.52H103.40M118.20,199.68H103.40M118.20,226.84H103.40M118.20,254.00H103.40M118.20,281.16H103.40M118.20,308.32H103.40M118.20,335.48H103.40M118.20,362.64H103.40M118.20,389.80H103.40M118.20,416.96H103.40M118.20,444.12H103.40M118.20,471.28H103.40M118.20,498.44H103.40M118.20,525.60H103.40M118.20,552.76H103.40M118.20,579.92H103.40M118.20,607.08H103.40M118.20,634.24H103.40M118.20,661.40H103.40M118.20,688.56H103.40M118.20,715.72H103.40M118.20,742.88H103.40M118.20,770.04H103.40M118.20,797.20H103.40M118.20,824.36H103.40M118.20,851.52H103.40M118.20,878.68H103.40M118.20,905.84H103.40M118.20,933.00H103.40" stroke="#333" stroke-width="1.1" fill="none"/>
<g opacity="0.999">
<text x="802.4" y="46.8" text-anchor="middle" style="font-size:28.8px;font-weight:bold">Tides at Exmouth Dock, August 2028</text>
<text x="118.2" y="84.6" text-anchor="middle">0</text>
<text x="118.2" y="985.2" text-anchor="middle">0</text>
<text x="289.9" y="84.6" text-anchor="middle">3</text>
<text x="289.9" y="985.2" text-anchor="middle">3</text>
<text x="461.5" y="84.6" text-anchor="middle">6</text>
<text x="461.5" y="985.2" text-anchor="middle">6</text>
<text x="633.2" y="84.6" text-anchor="middle">9</text>
<text x="633.2" y="985.2" text-anchor="middle">9</text>
<text x="804.8" y="84.6" text-anchor="middle">12</text>
<text x="804.8" y="985.2" text-anchor="middle">12</text>
<text x="976.5" y="84.6" text-anchor="middle">15</text>
<text x="976.5" y="985.2" text-anchor="middle">15</text>
<text x="1148.2" y="84.6" text-anchor="middle">18</text>
<text x="1148.2" y="985.2" text-anchor="middle">18</text>
<text x="1319.8" y="84.6" text-anchor="middle">21</text>
<text x="1319.8" y="985.2" text-anchor="middle">21</text>
<text x="88.6" y="126.7" text-anchor="end">1</text>
<text x="1486.3" y="126.7">T</text>
<circle cx="1522.75" cy="118.20" r="10.45" fill="#fff" stroke="#000" stroke-width="1"/><path d="M1522.75,107.75 A10.45,10.45 0 0 0 1522.75,128.65 A3.55,10.45 0 0 1 1522.75,107.75 Z" fill="#000"/>
<text x="88.6" y="153.9" text-anchor="end">2</text>
<text x="1486.3" y="153.9">W</text>
<circle cx="1522.75" cy="145.36" r="10.45" fill="#fff" stroke="#000" stroke-width="1"/><path d="M1522.75,134.91 A10.45,10.45 0 0 0 1522.75,155.81 A5.43,10.45 0 0 1 1522.75,134.91 Z" fill="#000"/>
<text x="88.6" y="181.0" text-anchor="end">3</text>
<text x="1486.3" y="181.0">T</text>
<circle cx="1522.75" cy="172.52" r="10.45" fill="#fff" stroke="#000" stroke-width="1"/><path d="M1522.75,162.07 A10.45,10.45 0 0 0 1522.75,182.97 A7.11,10.45 0 0 1 1522.75,162.07 Z" fill="#000"/>
<text x="88.6" y="208.2" text-anchor="end">4</text>
<text x="1486.3" y="208.2">F</text>
<circle cx="1522.75" cy="199.68" r="10.45" fill="#fff" stroke="#000" stroke-width="1"/><path d="M1522.75,189.23 A10.45,10.45 0 0 0 1522.75,210.13 A8.86,10.45 0 0 1 1522.75,189.23 Z" fill="#000"/>
<text x="88.6" y="235.3" text-anchor="end">5</text>
<text x="1486.3" y="235.3">S</text>
<circle cx="1522.75" cy="226.84" r="10.45" fill="#fff" stroke="#000" stroke-width="1"/><path d="M1522.75,216.39 A10.45,10.45 0 0 0 1522.75,237.29 A10.03,10.45 0 0 1 1522.75,216.39 Z" fill="#000"/>
<text x="88.6" y="262.5" text-anchor="end">6</text>
<text x="1486.3" y="262.5">S</text>
<circle cx="1522.75" cy="254.00" r="10.45" fill="#fff" stroke="#000" stroke-width="1"/>
<text x="88.6" y="289.7" text-anchor="end">7</text>
<text x="1486.3" y="289.7">M</text>
<circle cx="1522.75" cy="281.16" r="10.45" fill="#fff" stroke="#000" stroke-width="1"/><path d="M1522.75,270.71 A10.45,10.45 0 0 1 1522.75,291.61 A10.35,10.45 0 0 0 1522.75,270.71 Z" fill="#000"/>
<text x="88.6" y="316.8" text-anchor="end">8</text>
<text x="1486.3" y="316.8">T</text>
<circle cx="1522.75" cy="308.32" r="10.45" fill="#fff" stroke="#000" stroke-width="1"/><path d="M1522.75,297.87 A10.45,10.45 0 0 1 1522.75,318.77 A9.61,10.45 0 0 0 1522.75,297.87 Z" fill="#000"/>
<text x="88.6" y="344.0" text-anchor="end">9</text>
<text x="1486.3" y="344.0">W</text>
<circle cx="1522.75" cy="335.48" r="10.45" fill="#fff" stroke="#000" stroke-width="1"/><path d="M1522.75,325.03 A10.45,10.45 0 0 1 1522.75,345.93 A7.73,10.45 0 0 0 1522.75,325.03 Z" fill="#000"/>
<text x="88.6" y="371.1" text-anchor="end">10</text>
<text x="1486.3" y="371.1">T</text>
<circle cx="1522.75" cy="362.64" r="10.45" fill="#fff" stroke="#000" stroke-width="1"/><path d="M1522.75,352.19 A10.45,10.45 0 0 1 1522.75,373.09 A5.85,10.45 0 0 0 1522.75,352.19 Z" fill="#000"/>
<text x="88.6" y="398.3" text-anchor="end">11</text>
<text x="1486.3" y="398.3">F</text>
<circle cx="1522.75" cy="389.80" r="10.45" fill="#fff" stroke="#000" stroke-width="1"/><path d="M1522.75,379.35 A10.45,10.45 0 0 1 1522.75,400.25 A3.76,10.45 0 0 0 1522.75,379.35 Z" fill="#000"/>
<text x="88.6" y="425.5" text-anchor="end">12</text>
<text x="1486.3" y="425.5">S</text>
<circle cx="1522.75" cy="416.96" r="10.45" fill="#fff" stroke="#000" stroke-width="1"/><path d="M1522.75,406.51 A10.45,10.45 0 0 1 1522.75,427.41 A2.51,10.45 0 0 0 1522.75,406.51 Z" fill="#000"/>
<text x="88.6" y="452.6" text-anchor="end">13</text>
<text x="1486.3" y="452.6">S</text>
<circle cx="1522.75" cy="444.12" r="10.45" fill="#fff" stroke="#000" stroke-width="1"/><path d="M1522.75,433.67 A10.45,10.45 0 0 1 1522.75,454.57 A1.25,10.45 0 0 0 1522.75,433.67 Z" fill="#000"/>
<text x="88.6" y="479.8" text-anchor="end">14</text>
<text x="1486.3" y="479.8">M</text>
<circle cx="1522.75" cy="471.28" r="10.45" fill="#fff" stroke="#000" stroke-width="1"/><path d="M1522.75,460.83 A10.45,10.45 0 0 1 1522.75,481.73 A0.01,10.45 0 0 1 1522.75,460.83 Z" fill="#000"/>
<text x="88.6" y="506.9" text-anchor="end">15</text>
<text x="1486.3" y="506.9">T</text>
<circle cx="1522.75" cy="498.44" r="10.45" fill="#fff" stroke="#000" stroke-width="1"/><path d="M1522.75,487.99 A10.45,10.45 0 0 1 1522.75,508.89 A1.80,10.45 0 0 1 1522.75,487.99 Z" fill="#000"/>
<text x="88.6" y="534.1" text-anchor="end">16</text>
<text x="1486.3" y="534.1">W</text>
<circle cx="1522.75" cy="525.60" r="10.45" fill="#fff" stroke="#000" stroke-width="1"/><path d="M1522.75,515.15 A10.45,10.45 0 0 1 1522.75,536.05 A3.97,10.45 0 0 1 1522.75,515.15 Z" fill="#000"/>
<text x="88.6" y="561.3" text-anchor="end">17</text>
<text x="1486.3" y="561.3">T</text>
<circle cx="1522.75" cy="552.76" r="10.45" fill="#fff" stroke="#000" stroke-width="1"/><path d="M1522.75,542.31 A10.45,10.45 0 0 1 1522.75,563.21 A5.64,10.45 0 0 1 1522.75,542.31 Z" fill="#000"/>
<text x="88.6" y="588.4" text-anchor="end">18</text>
<text x="1486.3" y="588.4">F</text>
<circle cx="1522.75" cy="579.92" r="10.45" fill="#fff" stroke="#000" stroke-width="1"/><path d="M1522.75,569.47 A10.45,10.45 0 0 1 1522.75,590.37 A7.11,10.45 0 0 1 1522.75,569.47 Z" fill="#000"/>
<text x="88.6" y="615.6" text-anchor="end">19</text>
<text x="1486.3" y="615.6">S</text>
<circle cx="1522.75" cy="607.08" r="10.45" fill="#fff" stroke="#000" stroke-width="1"/><path d="M1522.75,596.63 A10.45,10.45 0 0 1 1522.75,617.53 A8.57,10.45 0 0 1 1522.75,596.63 Z" fill="#000"/>
<text x="88.6" y="642.7" text-anchor="end">20</text>
<text x="1486.3" y="642.7">S</text>
<circle cx="1522.75" cy="634.24" r="10.45" fill="#fff" stroke="#000" stroke-width="1"/><path d="M1522.75,623.79 A10.45,10.45 0 0 1 1522.75,644.69 A9.61,10.45 0 0 1 1522.75,623.79 Z" fill="#000"/>
<text x="88.6" y="669.9" text-anchor="end">21</text>
<text x="1486.3" y="669.9">M</text>
<circle cx="1522.75" cy="661.40" r="10.45" fill="#000" stroke="#000" stroke-width="1.2"/>
<text x="88.6" y="697.1" text-anchor="end">22</text>
<text x="1486.3" y="697.1">T</text>
<circle cx="1522.75" cy="688.56" r="10.45" fill="#fff" stroke="#000" stroke-width="1"/><path d="M1522.75,678.11 A10.45,10.45 0 0 0 1522.75,699.01 A9.20,10.45 0 0 0 1522.75,678.11 Z" fill="#000"/>
<text x="88.6" y="724.2" text-anchor="end">23</text>
<text x="1486.3" y="724.2">W</text>
<circle cx="1522.75" cy="715.72" r="10.45" fill="#fff" stroke="#000" stroke-width="1"/><path d="M1522.75,705.27 A10.45,10.45 0 0 0 1522.75,726.17 A7.94,10.45 0 0 0 1522.75,705.27 Z" fill="#000"/>
<text x="88.6" y="751.4" text-anchor="end">24</text>
<text x="1486.3" y="751.4">T</text>
<circle cx="1522.75" cy="742.88" r="10.45" fill="#fff" stroke="#000" stroke-width="1"/><path d="M1522.75,732.43 A10.45,10.45 0 0 0 1522.75,753.33 A6.90,10.45 0 0 0 1522.75,732.43 Z" fill="#000"/>
<text x="88.6" y="778.5" text-anchor="end">25</text>
<text x="1486.3" y="778.5">F</text>
<circle cx="1522.75" cy="770.04" r="10.45" fill="#fff" stroke="#000" stroke-width="1"/><path d="M1522.75,759.59 A10.45,10.45 0 0 0 1522.75,780.49 A5.12,10.45 0 0 0 1522.75,759.59 Z" fill="#000"/>
<text x="88.6" y="805.7" text-anchor="end">26</text>
<text x="1486.3" y="805.7">S</text>
<circle cx="1522.75" cy="797.20" r="10.45" fill="#fff" stroke="#000" stroke-width="1"/><path d="M1522.75,786.75 A10.45,10.45 0 0 0 1522.75,807.65 A3.34,10.45 0 0 0 1522.75,786.75 Z" fill="#000"/>
<text x="88.6" y="832.9" text-anchor="end">27</text>
<text x="1486.3" y="832.9">S</text>
<circle cx="1522.75" cy="824.36" r="10.45" fill="#fff" stroke="#000" stroke-width="1"/><path d="M1522.75,813.91 A10.45,10.45 0 0 0 1522.75,834.81 A1.46,10.45 0 0 0 1522.75,813.91 Z" fill="#000"/>
<text x="88.6" y="860.0" text-anchor="end">28</text>
<text x="1486.3" y="860.0">M</text>
<circle cx="1522.75" cy="851.52" r="10.45" fill="#fff" stroke="#000" stroke-width="1"/><path d="M1522.75,841.07 A10.45,10.45 0 0 0 1522.75,861.97 A0.01,10.45 0 0 0 1522.75,841.07 Z" fill="#000"/>
<text x="88.6" y="887.2" text-anchor="end">29</text>
<text x="1486.3" y="887.2">T</text>
<circle cx="1522.75" cy="878.68" r="10.45" fill="#fff" stroke="#000" stroke-width="1"/><path d="M1522.75,868.23 A10.45,10.45 0 0 0 1522.75,889.13 A2.09,10.45 0 0 1 1522.75,868.23 Z" fill="#000"/>
<text x="88.6" y="914.3" text-anchor="end">30</text>
<text x="1486.3" y="914.3">W</text>
<circle cx="1522.75" cy="905.84" r="10.45" fill="#fff" stroke="#000" stroke-width="1"/><path d="M1522.75,895.39 A10.45,10.45 0 0 0 1522.75,916.29 A3.97,10.45 0 0 1 1522.75,895.39 Z" fill="#000"/>
<text x="88.6" y="941.5" text-anchor="end">31</text>
<text x="1486.3" y="941.5">T</text>
<circle cx="1522.75" cy="933.00" r="10.45" fill="#fff" stroke="#000" stroke-width="1"/><path d="M1522.75,922.55 A10.45,10.45 0 0 0 1522.75,943.45 A5.64,10.45 0 0 1 1522.75,922.55 Z" fill="#000"/>
<text x="802.4" y="1028.8" text-anchor="middle">Local time (GMT/BST)</text>
<text transform="translate(39.6,525.3) rotate(-90)" text-anchor="middle">Date (August 2028)</text>
<text transform="translate(1665,549.5) rotate(-90)" text-anchor="middle">Height above datum (m)</text>
<rect x="1573.0" y="811.05" width="28.8" height="63.55" fill="#55001B" stroke="#000" stroke-width="1"/>
<rect x="1573.0" y="747.51" width="28.8" height="63.55" fill="#A00021" stroke="#000" stroke-width="1"/>
<rect x="1573.0" y="683.96" width="28.8" height="63.55" fill="#CB4B3E" stroke="#000" stroke-width="1"/>
<rect x="1573.0" y="620.42" width="28.8" height="63.55" fill="#EF9470" stroke="#000" stroke-width="1"/>
<rect x="1573.0" y="556.87" width="28.8" height="63.55" fill="#FCD3BC" stroke="#000" stroke-width="1"/>
<rect x="1573.0" y="493.33" width="28.8" height="63.55" fill="#F4F4F4" stroke="#000" stroke-width="1"/>
<rect x="1573.0" y="429.78" width="28.8" height="63.55" fill="#C8E0EE" stroke="#000" stroke-width="1"/>
<rect x="1573.0" y="366.24" width="28.8" height="63.55" fill="#83B8D9" stroke="#000" stroke-width="1"/>
<rect x="1573.0" y="302.69" width="28.8" height="63.55" fill="#3880B8" stroke="#000" stroke-width="1"/>
<rect x="1573.0" y="239.15" width="28.8" height="63.55" fill="#1C4F9E" stroke="#000" stroke-width="1"/>
<rect x="1573.0" y="175.60" width="28.8" height="63.55" fill="#08224E" stroke="#000" stroke-width="1"/>
<path d="M1601.8,811.05H1616.6" stroke="#333" stroke-width="1.1"/>
<text x="1630.6" y="819.6">0</text>
<path d="M1601.8,683.96H1616.6" stroke="#333" stroke-width="1.1"/>
<text x="1630.6" y="692.5">1</text>
<path d="M1601.8,556.87H1616.6" stroke="#333" stroke-width="1.1"/>
<text x="1630.6" y="565.4">2</text>
<path d="M1601.8,429.78H1616.6" stroke="#333" stroke-width="1.1"/>
<text x="1630.6" y="438.3">3</text>
<path d="M1601.8,302.69H1616.6" stroke="#333" stroke-width="1.1"/>
<text x="1630.6" y="311.2">4</text>
<path d="M1601.8,175.60H1616.6" stroke="#333" stroke-width="1.1"/>
<text x="1630.6" y="184.1">5</text>
</g>
</svg></body></html>
